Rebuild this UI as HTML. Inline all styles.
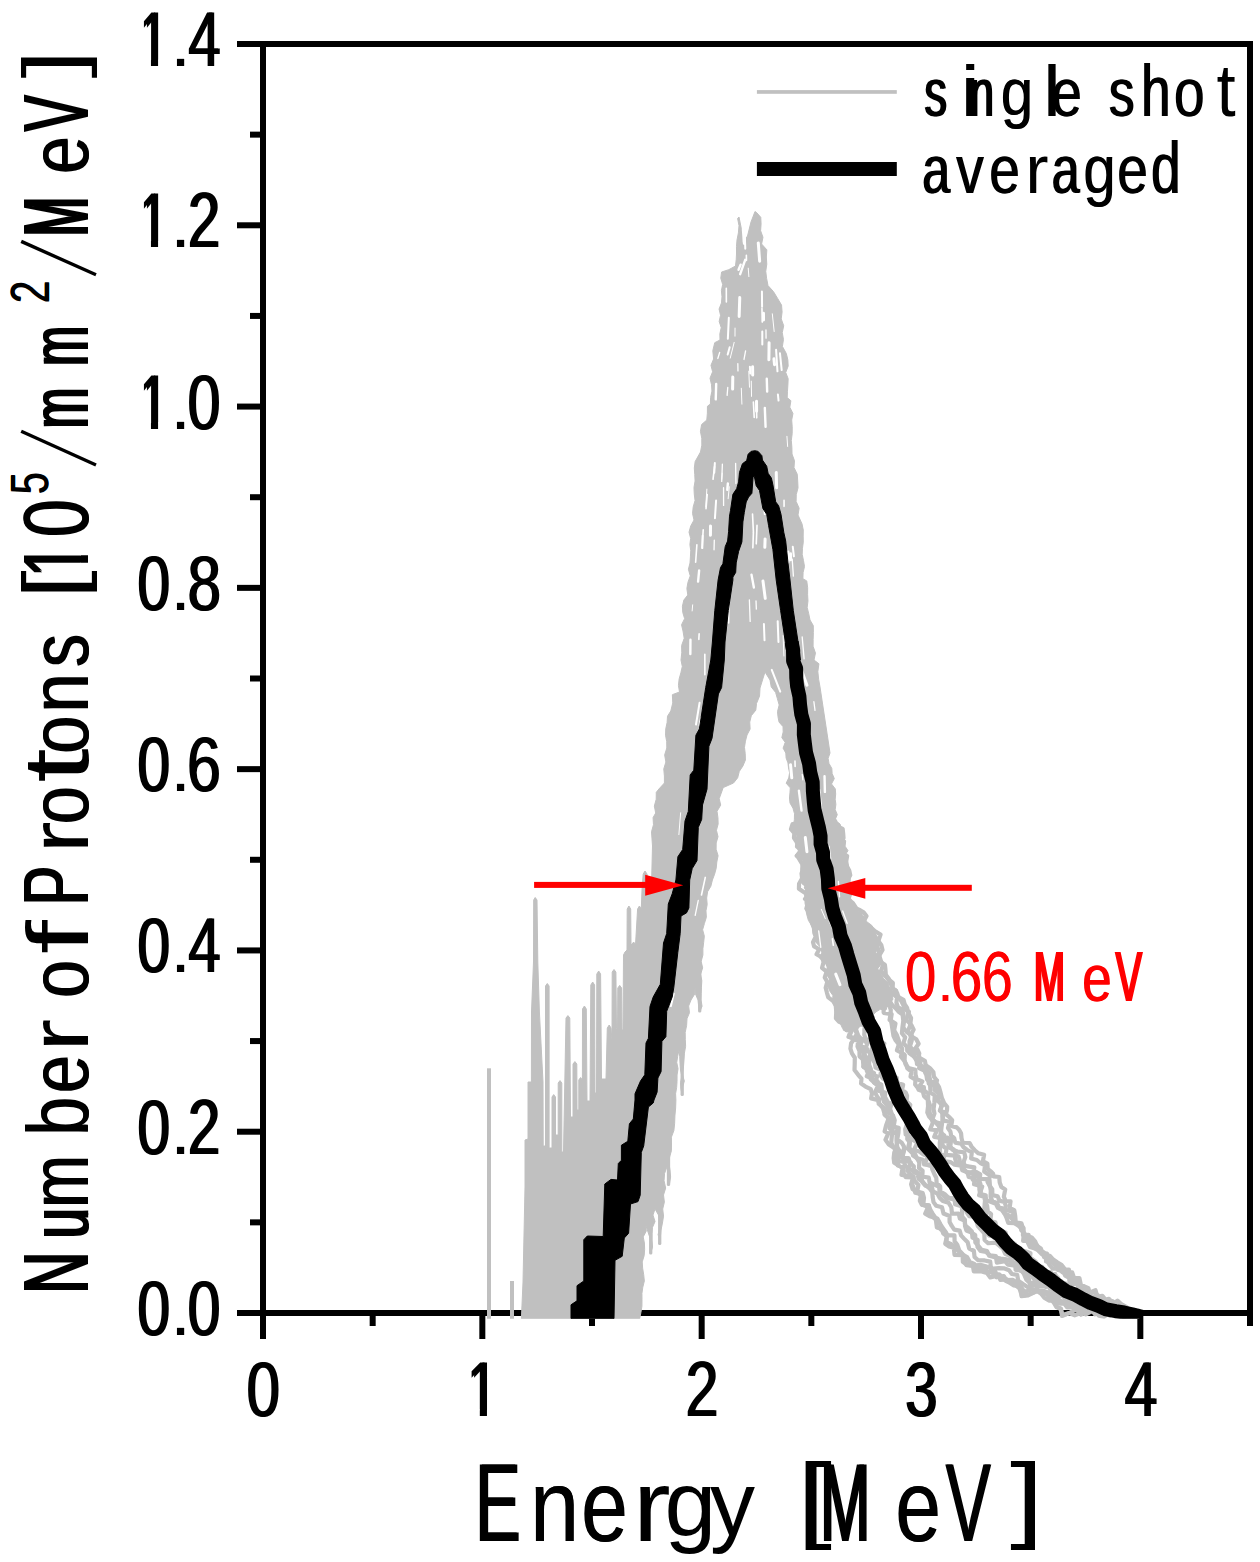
<!DOCTYPE html>
<html><head><meta charset="utf-8"><title>Proton energy spectrum</title>
<style>html,body{margin:0;padding:0;background:#fff}svg{display:block}text{font-family:"Liberation Sans",sans-serif;font-size:100px}</style>
</head><body>
<svg width="1260" height="1562" viewBox="0 0 1260 1562">
<defs><clipPath id="c1"><rect x="0" y="-80" width="60" height="71.9"/><rect x="25" y="-80" width="9.1" height="81"/></clipPath><clipPath id="cd"><rect x="0" y="0" width="1260" height="1318.7"/></clipPath></defs>
<rect width="1260" height="1562" fill="#fff"/>
<g fill="#000"><rect x="260" y="41" width="993" height="6"/><rect x="260" y="1310" width="993" height="6"/><rect x="260" y="41" width="6" height="1298"/><rect x="1247" y="41" width="6" height="1285"/><rect x="237" y="1310" width="24" height="6"/><rect x="250" y="1219.36" width="11" height="6"/><rect x="237" y="1128.71" width="24" height="6"/><rect x="250" y="1038.07" width="11" height="6"/><rect x="237" y="947.43" width="24" height="6"/><rect x="250" y="856.79" width="11" height="6"/><rect x="237" y="766.14" width="24" height="6"/><rect x="250" y="675.5" width="11" height="6"/><rect x="237" y="584.86" width="24" height="6"/><rect x="250" y="494.21" width="11" height="6"/><rect x="237" y="403.57" width="24" height="6"/><rect x="250" y="312.93" width="11" height="6"/><rect x="237" y="222.29" width="24" height="6"/><rect x="250" y="131.64" width="11" height="6"/><rect x="237" y="41" width="24" height="6"/><rect x="260" y="1315" width="6" height="24"/><rect x="369.67" y="1315" width="6" height="11"/><rect x="479.33" y="1315" width="6" height="24"/><rect x="589" y="1315" width="6" height="11"/><rect x="698.67" y="1315" width="6" height="24"/><rect x="808.33" y="1315" width="6" height="11"/><rect x="918" y="1315" width="6" height="24"/><rect x="1027.67" y="1315" width="6" height="11"/><rect x="1137.33" y="1315" width="6" height="24"/><rect x="1247" y="1315" width="6" height="11"/></g>
<g clip-path="url(#cd)">
<polygon points="521.4,1318.7 523,1282 525,1187 525,1140 528,1139 528,1082 531.4,1082 531.5,1012 533.5,962 533.7,900 535.2,897.5 537,900 537.8,962 539.4,1012 543,1082 543.2,1146 545.5,1146 545.5,986 547.3,983.5 549.1,986 549.1,1148 552,1148 552,1097 553.7,1094.6 555.5,1097 555.5,1135 558.2,1135 558.2,1083 560,1080.6 561.8,1083 561.8,1152 563.5,1152 566,1018 567.9,1015.6 569.8,1018 570.5,1117 573,1117 573,1064 574.9,1061.6 576.8,1064 577,1110 578.8,1110 578.8,1080 580.6,1077.5 582.4,1080 582.5,1009 584.4,1006 586.3,1009 587,1101 590,1101 590.8,985 592.7,982 594.6,985 595,1093 596.5,1093 596.8,974 598.7,971 600.6,974 601.5,1079 606,1079 607.3,1028 609.2,1025 611,1028 612,1040 612.2,972 614,969.5 615.9,972 616.5,1028 617.5,1030 617.8,988 619.7,985.4 621.6,988 622,1030 623,1030 623.5,955 625,952 627,950 627.2,909 628.9,906 630.7,909 631,945 633.7,942 635.5,945 637.6,909 639.4,906 641.3,909 642,890 643.2,874 645,871 647,874 648,880 651.7,878 652.5,846 652.01,838.89 651.53,831.78 653.48,824.73 653.08,817.62 655.7,813 654.35,806.08 656.21,799.24 656.28,792.36 658.9,789 664.4,783 664.4,775.97 663.77,768.89 665.87,762 664.66,754.89 666.8,748 666.71,741.63 665.54,735.24 665.76,728.87 667.1,722.54 667.52,716.18 670.8,711 672.75,702.94 672.37,694.66 679.5,692 678.45,685.54 679.1,679.15 680.86,672.82 682.31,666.48 681,660 681.78,652.77 681.63,645.47 684.21,638.37 683,631 681.54,624.76 684.64,618.65 682.76,612.4 682.41,606.2 683.86,600.04 687.8,595 686.87,588.51 687.99,582.15 690.26,575.88 688.41,569.32 690,563 690.41,556.84 690.74,550.68 689.9,544.5 690.65,538.35 689.03,532.15 690.72,526.02 694,520 692.54,513.47 693.2,506.98 695.04,500.52 694.26,494 693.98,487.5 695.09,481.02 694.74,474.51 694.32,468 695.17,461.52 700.5,452 701.84,445.16 701.78,438.27 700.43,431.32 701.63,424.48 706.8,420 707.39,413.13 707.45,406.24 710.4,404 710.59,397.55 711.94,391.12 711.51,384.66 710.02,378.19 712.61,371.78 710.98,365.3 713.6,359 712.8,350.73 714.75,342.66 720,340 719.85,333.81 721.22,327.66 719.18,321.43 720.54,315.27 719.07,309.05 721.48,302.92 721.97,296.75 721.43,290.55 722.66,284.4 720.78,278.17 721.6,272 728.83,269.65 735.5,266 736.21,259.52 736.54,253.02 736.47,246.49 737,240 738.42,232.83 739,225.64 737.6,218.4 739,217 742,232 747,238 751,222 755,211.5 757,213 760.77,217.34 761.07,224 760.6,230.69 762.97,237.29 761.6,244 766.85,249.82 766.35,257 766.78,264.15 765.76,271.35 766.61,278.48 768,285.6 773.42,291.53 777.6,298.4 781.54,305.12 782.09,311.99 781.22,318.89 783.69,325.72 782.25,332.64 783.45,339.49 782.4,346.4 786.34,353.57 787.84,359.83 788.17,366.12 785.74,372.46 788.16,378.7 787.86,385 787.47,391.3 787.2,397.6 790.89,400.74 789.82,407.21 792.94,413.52 791.7,420 792.21,426.79 792.18,433.61 791.31,440.47 791.87,447.26 792.03,454.06 794.47,460.76 794,467.6 797.28,474.24 797.7,481.02 798.03,487.82 796.26,494.64 796.11,501.44 799.14,508.18 798,515 802.02,523.92 803.28,529.99 803.18,536.08 803.27,542.16 802.46,548.26 802.19,554.36 803.46,560.43 804.49,566.5 803.09,572.61 802.9,578.7 806.75,580.93 807.65,587.73 807.6,594.6 807.96,600.97 807.18,607.45 808.72,613.71 810,620 813.28,625.6 813.37,632.48 813.14,639.37 813.08,646.25 815.46,653.09 814,660 818.92,663.78 817.84,671.59 818.63,679.31 820,687 830,753 828.14,758.32 828.99,763.44 831.8,768.41 832.14,773.57 834.3,778.59 831.5,783.98 835.31,788.88 835.67,794.04 835.2,799.25 835.87,804.39 835.19,809.62 837.29,814.65 835,820 840.2,824.27 841.84,830.14 842.4,836.5 845.68,840.97 845.07,846.18 848,850.72 843.93,856.59 846.39,861.21 848,866 850.52,871.17 850.32,876.55 850.16,881.93 850.48,887.27 852.34,892.49 850.5,898 852.11,903.95 854.73,909.2 860.64,912.13 863.8,917 866.73,921.7 871.63,925.22 874.4,930.02 875.2,936 876.96,941.29 878.25,946.64 875.74,952.58 880.52,957.41 882.17,962.71 877.5,968.98 881,974 883.7,978.84 888.52,982.41 889.33,988.38 892.4,993 892.92,999.67 887.98,1004.27 886,1010 880.2,1009.36 875.81,1012 872,1016 856,1030 850.8,1030 846,1032 842.16,1027.6 839.89,1022.33 836.23,1017.83 835,1012 835.2,1006.27 832.79,1001.11 832.86,995.4 829.39,990.47 827.66,985.16 829.47,979.08 826.7,974 827.47,967.84 825.17,962.61 823.29,957.25 821.71,951.81 819.68,946.5 815.48,941.84 815.2,936 813.8,930.55 811.5,925.34 808.38,920.36 806.89,914.93 806.67,909.16 805.08,903.76 804.8,898 805.24,892.3 806.04,886.56 802.85,881.23 804.82,875.37 802,870 803.77,864.08 802.84,858.52 799.05,853.34 797.56,847.86 796.84,842.27 797.5,836.5 794.71,831.26 793.5,825.67 794.38,819.61 794.53,813.71 792.98,808.2 790,803 789.47,798.01 789.95,792.93 790.29,787.87 786.17,783.18 788.73,777.93 789.6,772.82 788.52,767.88 787.94,762.89 786.11,758.01 785.8,753 783.12,748.15 785.2,742.35 781.83,737.65 783.18,731.99 783.02,726.64 779.04,722.06 778.03,716.88 777.5,711.6 779.18,704.97 777.4,698.68 775.6,692.4 771.24,686.91 770,680 765,672 760,688 759.56,696.05 756.5,703.5 755.8,710.16 751.3,715.68 749.74,722.08 750.12,729.07 747,735 745.43,741.17 744.47,747.39 745.23,753.71 745.4,760 742.9,766 739.29,771.42 737.65,777.86 733.5,783 723.2,787.6 719.2,798.7 720.71,805.1 717.03,811.3 717.94,817.67 718.14,824.02 716.44,830.29 718,836.69 716.18,842.96 716.11,849.3 718.08,855.71 716.8,862 716.2,868.21 714.59,874.18 712.4,880 710.86,886.2 707.6,891.7 706.65,898.03 707.18,904.51 705.97,910.81 706.36,917.27 704.4,923.5 702.63,929.73 704.33,936.13 703.65,942.41 702.9,948.69 702.9,955 701.17,961.37 702.64,967.87 700.58,974.22 701.81,980.71 701.43,987.14 701.19,993.57 701,1000 702.07,1006.19 699.7,1012 698.64,1006.03 698,1000 695.39,993.76 695,987 694.71,994.03 691,1000 688.61,1006.01 689.49,1012.71 687,1018.7 686.6,1025.59 685.19,1032.41 685.3,1039.34 685.62,1046.28 684.43,1053.11 684,1060 683.44,1066.99 682.26,1073.95 684.34,1081.07 682.34,1087.99 682.2,1095 680.87,1088.81 680.55,1082.55 681.9,1076.18 680.5,1070 680.03,1063.33 679.72,1056.65 679,1050 677.68,1056.19 676.74,1062.41 678.04,1068.76 677.05,1074.97 677.04,1081.25 676.63,1087.5 675.59,1093.71 675.9,1100 675.64,1107.94 674.91,1115.86 674.6,1123.8 673.88,1130.56 671.42,1137.11 671.49,1143.97 671.4,1150.8 669.58,1157.1 668.88,1163.48 670,1170 670.61,1177.03 669.5,1184 668.96,1176.98 668,1170 667,1166.7 664.54,1173.58 664.04,1180.7 665.67,1188.09 663.5,1195 664.36,1202.1 662.71,1209.01 663.53,1216.11 662.43,1223.07 661,1230 660,1241 658.09,1234.59 659.86,1227.96 659.9,1221.44 658.5,1215 655,1209 652.98,1215.06 655.04,1221.52 652.43,1227.53 652.03,1233.74 652,1240 652.53,1247.14 650.5,1254 651.37,1247.56 651.18,1241.2 649,1235 645.7,1225 646.27,1231.07 643.21,1236.88 644.4,1243 644.63,1249.33 644.17,1255.64 642.22,1261.92 642.64,1268.25 643.7,1274.6 644.34,1281.01 642.8,1287.22 641.93,1293.49 641.99,1299.85 641.93,1306.2 640.92,1312.46 639.7,1318.7" fill="#c0c0c0" stroke="#c0c0c0" stroke-width="1" stroke-linejoin="round"/>
<polyline points="793.86,823.99 792.97,828.77 799.03,832.27 798.12,837.06 797.55,841.78 796.98,846.5 801.78,850.24 796.66,855.8 803.78,859.1 803.16,863.66 802.25,868.55 802.68,873.38 804.99,877.89 803.67,883.02 809.31,886.97 811.2,892.06 807.8,898.31 808.86,903.04 807.97,908.22 813.85,911.86 812.22,917.2 816.53,922.03 815.86,927.72 815.23,932.44 819.02,935.75 820.42,939.82 824.01,943.19 821.89,948.39 824.17,951.89 821.31,957.66 826.32,961.37 829.46,965.62 827.86,971.27 829.63,975.93 832.91,980.25 831.61,985.95 833.58,990.56 837.16,994.68 834.98,1000.55 835.68,1005.55 841.52,1009.99 844.24,1014.81 847.66,1018.17 844.94,1024.06 844.68,1028.94 850.52,1031.29 848.53,1036.88 855.03,1037.85 851.11,1043.27 850.4,1048.68 851.94,1053.41 854.78,1057.76 854.74,1062.97 854.52,1069.91 858.35,1075.06 861.45,1078.57 861.09,1083.58 865.48,1086.53 870.73,1089.11 872,1093.41 871.15,1098.4 877.46,1099.99 879.38,1103.64 882.97,1108.35 884.82,1114.63 888.61,1118.16 889.4,1123.54 893.7,1126.13 891.21,1131.75 896.7,1133.78 896.7,1139.76 897.1,1145.64 894.26,1152.53 893.65,1157.97 894.21,1162.65 898.22,1165.12 902.53,1168.13 901.48,1174.92 907.9,1175.75 913.02,1177.5 911.13,1184.36 912.57,1189.14 917.26,1191.38 920.23,1194.84 923.26,1198.26 922.3,1204.54 927.17,1206.65 928.85,1211.04 931.22,1214.94 935.86,1219.66 936.86,1227.47 941.74,1229.01 943.28,1233.58 946.99,1236.17 945.22,1243.73 948.79,1246.45 953.83,1247.85 954.52,1254.9 962.73,1255.14 962.85,1261.87 966.78,1264.76 972.81,1265.54 973.83,1271.37 980.87,1271.13 986.93,1273.06 990.26,1277.5 998.3,1275.4 1000.35,1279.96 1006.96,1279.45 1010.15,1282.74 1014.75,1284.46 1019.43,1288.38 1021.89,1295.84 1028.83,1294.38 1036.86,1291.37 1042.77,1291.38 1046.68,1294.25 1050.43,1298.24 1053.81,1302.66 1056.51,1307.15 1060.66,1309.23 1062.52,1315.12 1069.11,1313.13 1074.71,1315.31 1081.92,1312.55 1085.74,1314.41 1091.5,1311.46 1095.69,1312.39 1098.95,1315.67 1103.96,1316.8 1110.49,1312.1 1115.23,1313.26 1119.8,1315.43 1124.41,1317.35 1129.87,1314.54 1134.04,1314.28 1138.63,1311.62" fill="none" stroke="#c0c0c0" stroke-width="4.2" stroke-linejoin="round" stroke-linecap="round"/>
<polyline points="792.46,824.24 790.98,829.13 794.36,833.13 793.96,837.82 796.57,841.96 798.66,846.19 800.91,850.4 797.07,855.72 799.75,859.85 802.15,863.84 803.07,868.41 801.54,873.57 802.14,878.37 799.07,883.79 798.9,888.72 805.54,893.17 807.36,898.41 807.78,903.28 806.38,908.57 810.1,912.71 814.09,916.78 812.09,923.23 814,928.32 814.29,932.75 815.77,936.79 812.98,942.21 814.12,946.36 819.17,949.27 816.56,954.22 822.06,957.44 823.6,962.17 822.03,967.8 826.63,971.63 824.75,977.36 827.32,981.92 825.65,987.77 826.9,992.59 828.26,997.39 833.22,1001.09 835.77,1005.52 836.26,1011.85 835.92,1018.26 839.1,1021.71 844.86,1024.1 848.66,1027.29 851.72,1030.79 849.01,1036.69 852.8,1038.64 858.09,1041.17 857.51,1046.54 859.5,1051.14 859.53,1056.33 863.89,1060.22 866.03,1065.74 866.95,1071.34 871.49,1074.22 877.29,1076.56 874.25,1082.73 880.92,1084.69 881.43,1089.32 882.47,1093.61 882.72,1097.82 883.98,1101.75 887.64,1105.91 890.82,1110.93 892.25,1115.91 892.72,1121.49 892.92,1126.59 898.73,1127.73 898.43,1132.86 897.22,1139.46 901.66,1142.7 903.9,1146.31 903.96,1151.32 902.06,1157.59 904.96,1160.78 910.84,1162.54 907.45,1170.74 910.27,1174.09 913.75,1176.98 912,1183.75 913.82,1188.24 915.33,1192.75 921.17,1194.17 919.85,1200.71 921.86,1204.86 928.85,1205.45 925.21,1213.64 929.55,1216.13 937.36,1218.45 940.45,1224.23 942.79,1228.06 945.33,1231.72 947.82,1235.42 954.46,1235.37 954.59,1241.21 957.27,1244.73 959.26,1250.36 963.13,1254.73 967.31,1257.37 969.66,1261.85 974.39,1263.94 976.47,1268.71 983.67,1268.3 987.99,1271.93 995.47,1271.71 996.6,1277.29 1003.81,1276.11 1006.31,1280.17 1012.68,1279.93 1016.7,1282.3 1020.8,1286.66 1021.59,1296.26 1028.07,1295.46 1037.17,1290.93 1041.14,1293.71 1044.28,1297.67 1048.89,1300.6 1055.16,1300.41 1056.85,1306.58 1061.03,1308.61 1061.99,1316.01 1069.15,1313.07 1078.19,1308.38 1081.05,1314.7 1086.73,1311.96 1092.03,1310.13 1094.94,1314.26 1100.11,1312.78 1104.45,1315.04 1110.55,1311.76 1115.47,1311.95 1120.13,1313.58 1124.66,1315.94 1130.47,1311.13 1133.54,1317.14 1138.1,1314.61" fill="none" stroke="#c0c0c0" stroke-width="4.2" stroke-linejoin="round" stroke-linecap="round"/>
<polyline points="803.01,822.3 799.65,827.54 798.57,832.36 799.36,836.83 806.6,840.11 806.01,844.84 803.33,849.95 805.02,854.26 813.35,857.34 812.06,862.1 815.59,866.31 810.53,872.06 812.3,876.67 810.04,881.95 812.47,886.44 810.4,892.22 812.79,897.18 816.57,901.3 817.02,906.18 817.94,910.94 819.59,915.54 822.57,920.4 821.82,925.81 819.56,931.06 824.32,934.05 823.76,938.75 827.35,942.12 827.34,946.65 828.03,950.71 834.31,953.84 835.1,958.79 836.43,963.58 832.11,970.02 837.72,973.55 835.96,979.33 837.48,984.17 840.14,988.57 846.37,991.88 845.79,997.26 846.58,1002.23 847.27,1007.95 850.46,1012.24 849.83,1017.27 845.63,1023.78 850.9,1026.37 854.65,1029.58 857.36,1033.23 855.71,1037.61 863.34,1039.59 867.36,1043.58 864.79,1049.55 870.55,1053.02 869.22,1058.62 869.12,1064.63 870.95,1069.6 869.94,1074.89 871.73,1078.97 877.53,1081.31 880.01,1085.09 878.18,1090.73 885.07,1092.51 884.98,1096.89 886.94,1100.53 888.37,1105.53 884.62,1114.75 888.66,1118.13 885.99,1125.65 884.61,1131.39 888.29,1133.31 885.43,1139.81 888.8,1144.4 893.88,1147.72 897.18,1150.64 899.57,1154.15 898.39,1159.96 897.78,1165.41 903.65,1167.38 903.7,1173.36 905.79,1177.23 913.16,1177.39 915.09,1181.56 918.43,1184.95 917.23,1191.39 922.69,1193.08 924.01,1197.73 923.39,1203.76 928.85,1205.45 930.42,1209.92 932.79,1213.81 936.46,1219.18 940.16,1224.49 941,1229.68 945.37,1231.68 946.45,1236.66 946.81,1242.29 951.39,1244.1 954.88,1246.9 958.4,1251.19 963.01,1254.85 965.19,1259.51 966.39,1265.16 972.55,1265.8 980.38,1264.77 985.69,1266.27 991.25,1268.49 993.23,1274.2 999.2,1274.4 1002.56,1277.51 1005.71,1280.83 1009.99,1282.91 1013.85,1285.46 1020.86,1286.58 1024.53,1292.07 1032.52,1289.12 1037.9,1289.89 1041.33,1293.45 1047.6,1292.94 1052.3,1295.37 1054.85,1300.92 1058.66,1303.58 1064.1,1303.5 1067.2,1307.33 1072.69,1307.18 1077.08,1310.6 1083.9,1307.62 1088.03,1308.71 1092.44,1309.13 1096.03,1311.55 1100.41,1312.03 1105.11,1312.67 1109.85,1315.69 1115.72,1310.54 1120.03,1314.12 1124.4,1317.38 1129.41,1317.13 1133.74,1315.98 1137.69,1316.98" fill="none" stroke="#c0c0c0" stroke-width="4.2" stroke-linejoin="round" stroke-linecap="round"/>
<polyline points="798.87,823.06 803.28,826.87 798.66,832.34 799.15,836.87 804.3,840.54 806.09,844.82 808.82,848.94 810.44,853.26 810.45,857.88 806.29,863.11 804.21,868.22 807.98,872.49 804.79,877.93 808.83,882.15 806,887.53 811.56,891.99 805.02,898.93 812.67,902.18 806.9,908.46 808.23,913.13 815.79,916.4 814.12,922.68 819.11,926.68 815.27,932.43 819.63,935.55 817.48,940.76 824.04,943.18 826.96,946.77 824.64,951.75 830.52,954.95 826.37,961.35 831.81,964.93 831.16,970.3 831.93,975.25 832.7,980.31 831.51,985.98 837.65,989.32 835.58,995.16 841.14,998.68 844.23,1002.95 847.02,1008.04 851.09,1011.98 848.59,1017.78 855.3,1019.78 858.63,1023.17 856.04,1029.01 857.11,1033.33 855.08,1037.83 859.38,1040.78 858.84,1046.14 861.77,1050.46 864.71,1054.77 867.34,1059.18 863.39,1066.7 869.07,1070.42 866.8,1076.25 872.64,1078.58 874.41,1082.66 877.86,1086.02 875.04,1092.1 876.76,1096.02 879.1,1099.31 878.71,1103.92 884.03,1107.8 888.36,1112.44 892.78,1115.59 888.56,1124.06 889.65,1128.47 892.89,1130.85 891.82,1136.39 891.22,1142.98 893.91,1147.7 898.2,1149.99 896.78,1155.95 896.78,1161 903.48,1161.73 905.65,1166.03 909.4,1169.38 915.2,1170.65 919.19,1173.18 921.44,1177.07 922.32,1182.17 925.37,1185.58 931.81,1186.57 932.92,1191.36 937.49,1193.68 939.62,1197.75 942.84,1201.04 948.42,1202.64 951.3,1207.24 952.01,1213.77 958.7,1213.67 959.85,1218.59 964.36,1220.46 965.37,1225.5 968.77,1228.38 971.87,1231.53 972.5,1237.68 977.71,1240.03 977.51,1247.08 980.51,1250.91 986.2,1252.04 989.85,1255.21 995.83,1256.04 996.84,1262.58 1004.96,1261.16 1007.93,1264.69 1013.47,1265.36 1018.79,1266.29 1020.81,1270.88 1025.18,1272.86 1028.43,1277.04 1030.08,1284.16 1038.75,1280.24 1040.46,1286.25 1046.69,1285.8 1051.4,1287.53 1053.88,1292.95 1057.68,1296.22 1063.38,1295.72 1066.3,1299.84 1068.74,1304.76 1073.95,1305.08 1079.08,1306.62 1085.02,1304.86 1089.05,1306.18 1092.3,1309.47 1096.44,1310.53 1102.14,1307.75 1106.79,1306.69 1111.01,1309.2 1115.35,1312.61 1120.64,1310.74 1124.95,1314.33 1130.34,1311.91 1134.35,1312.48 1138.19,1314.1" fill="none" stroke="#c0c0c0" stroke-width="4.2" stroke-linejoin="round" stroke-linecap="round"/>
<polyline points="803.88,822.14 803.67,826.8 803.94,831.37 803.4,836.08 809.88,839.51 809.08,844.27 811.2,848.5 813.75,852.65 811.56,857.67 808.16,862.78 813.26,866.7 809.31,872.27 813.28,876.5 815.38,881.05 816.43,885.77 815.07,891.3 817.69,896.08 815.83,901.47 817.75,906.01 818.85,910.74 823.37,914.69 822.38,920.46 825.55,924.61 827.5,928.51 830.28,932.14 834.31,935.37 830.95,940.97 835.05,944.18 829.55,950.25 829.96,955.12 834.34,959.01 830.38,965.35 832.74,969.84 833.69,974.74 837.79,978.79 838.6,983.83 841.68,988.1 845.42,992.17 843.33,998.01 849.03,1001.49 846.37,1008.27 852.94,1011.21 847.63,1018.18 849.61,1022.13 854.73,1024.78 855.37,1029.29 856.86,1033.44 858.9,1036.48 862.15,1039.95 860.3,1045.71 867.13,1048.85 863.2,1055.23 862.99,1060.49 863.42,1066.69 869.17,1070.37 874.01,1073.13 870.77,1079.39 874.46,1082.64 881.37,1084.5 881.6,1089.25 881.91,1093.84 884.49,1097.09 885.66,1101.05 891.38,1103.97 889.35,1111.83 892.98,1115.46 894.73,1120.25 893.67,1126.15 897.14,1128.58 896.99,1133.63 896.77,1139.72 896.76,1145.86 898.62,1149.71 902.1,1152.52 903.16,1156.89 908.74,1158.34 910.11,1163.03 913.85,1166.27 913.39,1171.91 917.66,1174.25 918.62,1179.07 922.81,1181.82 925.65,1185.38 929.49,1188.22 932.19,1191.88 932.67,1197.13 933.54,1202.1 936.19,1205.8 941.98,1207.24 943.51,1213.51 949.53,1216.01 949.6,1221.9 951.76,1225.9 954.25,1229.6 959.67,1230.66 961.06,1235.35 964.02,1238.63 967.66,1242.32 969.19,1248.62 973.86,1250.77 974.56,1256.92 978.09,1260.22 984.64,1260.46 990.24,1261.67 990.95,1268.8 998.65,1268.17 1004.53,1268.47 1009.08,1270.25 1011.83,1274.03 1017.2,1274.9 1018.21,1280.61 1022.95,1283.94 1027.92,1287.24 1036.27,1283.78 1037.41,1290.59 1043.27,1290.67 1048,1292.38 1052.96,1294.37 1056.24,1298.62 1060.53,1300.46 1064.41,1302.99 1068.65,1304.91 1074.31,1304.48 1078,1308.77 1082.93,1310.05 1087.53,1309.97 1093.28,1307.02 1098.01,1306.64 1101.94,1308.23 1104.99,1313.12 1110.9,1309.8 1115.95,1309.28 1120.08,1313.89 1125.71,1310.09 1130.29,1312.15 1134.28,1312.88 1138.41,1312.86" fill="none" stroke="#c0c0c0" stroke-width="4.2" stroke-linejoin="round" stroke-linecap="round"/>
<polyline points="805.32,821.88 806.91,826.2 805.34,831.11 806.58,835.5 807.67,839.92 812.86,843.58 809.1,848.89 815.11,852.4 814.6,857.11 810.4,862.39 813.32,866.69 812.59,871.72 814.84,876.24 817.9,880.63 813.19,886.32 813.72,891.56 812.91,897.15 819.07,900.74 815.65,906.48 818.79,910.75 823.71,914.61 823.68,920.11 829.03,923.5 828.45,928.2 831.67,931.7 835.07,935.13 833.64,940.11 834.68,944.29 838.59,947.48 840.95,951.89 839.2,957.58 845.26,960.98 840.8,967.47 843.33,971.9 844.51,976.78 844.3,982.09 846.41,986.66 842.4,993.09 845.54,997.34 847.53,1001.94 851.19,1006.56 852.5,1011.4 852.44,1016.19 855.59,1019.66 858.29,1023.31 864.42,1025.54 864.58,1030.24 864.25,1034.59 865.52,1038.94 874.37,1041.47 872.15,1047.34 875.77,1051.45 875.9,1056.61 876.63,1061.91 883.8,1064.03 888.11,1067.01 885.24,1073.11 889.83,1075.97 894.12,1078.97 894.84,1083.51 895.02,1088.29 896.01,1092.34 900.96,1094.75 901.9,1098.49 901.28,1104.46 904.87,1108.12 907.59,1112.31 906.28,1118.86 907.26,1123.17 905.22,1129.23 905.68,1134.49 910.36,1137.09 909.33,1142.81 907.81,1148.84 910.99,1151.84 915.09,1154.24 917.01,1158.39 919.31,1162.45 919.01,1167.98 922.62,1170.78 922.31,1176.46 928.71,1177.6 929.64,1182.53 934.53,1184.62 939.15,1186.91 939.59,1192.18 943.08,1195.28 946.29,1198.58 954.83,1198.06 955.05,1204.23 960.56,1206.04 965.22,1207.77 966.73,1212.36 969.19,1216.09 974.96,1216.82 976.55,1221.34 977.86,1226.12 980.93,1229.61 984.33,1233.35 984.57,1239.96 988.12,1243.24 995.62,1242.54 999.35,1245.63 1003,1248.81 1005.15,1253.79 1009.72,1255.87 1011.35,1260.89 1015.1,1263.56 1020.5,1264.39 1022.88,1268.58 1025.97,1271.98 1030.76,1274.1 1033.81,1278.85 1037.41,1282.16 1044.14,1281 1045.82,1287.04 1053.28,1284.84 1056.61,1288.75 1060.86,1290.93 1063.13,1296.13 1065.94,1300.44 1071.28,1300.53 1076.91,1300.15 1081.31,1302.17 1083.7,1308.13 1088.75,1306.94 1091.97,1310.29 1098.36,1305.77 1102.87,1305.91 1105.99,1309.53 1111.35,1307.31 1115.47,1311.97 1120.77,1309.99 1124.77,1315.33 1130.47,1311.17 1133.88,1315.17 1138.5,1312.34" fill="none" stroke="#c0c0c0" stroke-width="4.2" stroke-linejoin="round" stroke-linecap="round"/>
<polyline points="812.53,820.55 808.96,825.82 815.42,829.25 814.06,834.12 810.65,839.37 815.54,843.09 814.95,847.81 816,852.24 816.6,856.74 818.35,860.99 816.14,866.22 817.06,870.97 819.08,875.53 816.75,880.82 822.14,884.82 823.63,889.62 821.72,895.17 820.2,900.48 825.27,904.32 825.86,909.16 828.8,913.47 825.59,919.59 829.66,923.3 831.94,927.09 831.27,931.82 831.96,936.12 840.16,938.02 840.51,942.43 836.01,948.27 838.02,952.75 840.3,957.26 840.77,962.3 842.2,967.06 846.78,970.89 847.46,975.9 843.02,982.48 848.09,986.15 850.18,990.72 848.73,996.37 849.99,1001.19 850.06,1006.96 853.05,1011.17 855.64,1014.86 861.59,1017.17 864.48,1020.75 866.67,1024.61 864.66,1030.21 873.22,1031.43 872.5,1036.84 872.93,1041.91 872.14,1047.34 870.58,1053.01 871.88,1057.82 874.73,1062.6 875.56,1067.6 881.32,1069.96 880.38,1075.22 883.31,1078.8 887.91,1081.66 890.45,1085.42 894.84,1088.37 896.77,1092.03 896.4,1096.63 902.88,1097.98 904.34,1102.57 906.86,1106.89 909.41,1111.18 908.93,1117.33 910.05,1121.68 907.53,1128 907.55,1133.39 907.25,1139.1 909.98,1142.39 909.22,1147.93 912.31,1150.99 913.02,1155.58 917.07,1158.36 923,1159.87 924.11,1164.41 931.35,1164.68 932.31,1169.38 934.19,1173.68 936.27,1177.79 936.69,1183.08 940.14,1186.21 940.36,1191.64 944.69,1194.13 948.07,1197.3 953.02,1199.36 959.39,1200.74 961.84,1204.87 962.05,1210.64 962.15,1216.51 964.93,1219.94 965.01,1225.83 966.4,1230.52 970.93,1232.39 975.21,1235.09 975.34,1242.42 978.51,1246.07 981.64,1249.78 987.08,1251.15 989.25,1255.81 994.7,1257.18 1000.62,1258.58 1006.63,1259.3 1010.81,1261.49 1015.2,1263.45 1015.61,1269.83 1021.33,1270.3 1024.02,1274.15 1026.36,1279.64 1030.5,1283.57 1036.1,1284.02 1040.85,1285.69 1048.14,1283.74 1050,1289.52 1056.5,1288.92 1058.36,1295.08 1065.19,1292.71 1066.75,1299.09 1070.07,1302.56 1076.23,1301.29 1082.29,1300.22 1085.18,1304.46 1089.95,1303.95 1095.19,1302.3 1099.27,1303.51 1101.74,1308.72 1106.29,1308.47 1110.51,1311.98 1116.34,1307.07 1120.84,1309.64 1126.02,1308.35 1129.85,1314.66 1134.58,1311.2 1137.71,1316.87" fill="none" stroke="#c0c0c0" stroke-width="4.2" stroke-linejoin="round" stroke-linecap="round"/>
<polyline points="811.89,820.67 815.61,824.6 814.44,829.43 819.12,833.19 815.62,838.45 815.73,843.05 816.8,847.47 822.87,850.97 821.54,855.84 822.38,860.28 825.12,864.71 823.33,869.91 825.17,874.51 825.59,879.34 819.62,885.24 824.1,889.52 824.74,894.49 820.77,900.36 821.6,905.14 821.94,910.04 826.45,914 829.47,918.54 833.03,922.22 835.85,925.83 836.17,930.25 838.17,934.13 837.13,938.99 845.45,940.84 844.95,945.53 841.61,951.7 845.02,955.87 848.01,960.17 848.36,965.25 850.71,969.74 850.6,974.96 850.72,980.14 854.12,984.31 849.81,990.83 853.08,995.05 855.49,999.52 854.11,1005.52 857.88,1009.17 860.23,1012.96 861.73,1017.11 865.9,1020.15 867.72,1024.17 871.98,1027.18 870.45,1032.41 874.69,1036.18 876.76,1040.75 873.89,1046.82 876.19,1051.32 873.6,1057.3 874.81,1062.57 883.91,1063.98 888.72,1066.75 885.35,1073.07 891.08,1075.44 891.3,1080.2 897.66,1082.29 896.49,1087.67 896.35,1092.2 900.17,1095.07 900.66,1099.14 901.95,1104.05 905.33,1107.84 905.96,1113.31 910.72,1116.29 912.59,1120.32 911.07,1126.1 911.07,1131.32 915.63,1133.7 913.3,1140.25 917.57,1142.55 913.91,1149.95 919.27,1151.54 923.18,1154.24 928.12,1156.29 924.75,1163.97 929.82,1165.75 936.48,1166.43 939.62,1169.8 945.15,1171.44 945.4,1176.85 951.44,1178.12 956.03,1180.43 955.45,1186.44 961.38,1187.79 962.8,1192.37 966.34,1195.16 965.37,1201.69 968.84,1204.49 973.16,1206.55 976,1209.93 975.02,1216.77 979.42,1218.75 982.34,1222.06 984.72,1225.98 985.97,1231.69 988.93,1235.57 995.14,1236.17 1000.55,1237.57 1004.35,1240.59 1006.08,1245.71 1009.98,1248.68 1014.76,1250.26 1016.23,1255.46 1022.5,1255.32 1022.98,1261.63 1027.8,1263.11 1031,1266.39 1035.37,1268.28 1037.59,1273.47 1044.43,1272.15 1046.72,1277.32 1055.08,1273.85 1056.03,1280.93 1059.49,1284.33 1064.7,1284.53 1066.93,1289.8 1071.15,1291.76 1074.23,1295.63 1077.73,1298.79 1084.38,1296.06 1086.97,1300 1090.48,1302.64 1096.15,1299.91 1098.78,1304.74 1103.27,1304.92 1107.59,1303.81 1111.62,1305.78 1116.47,1306.36 1121.15,1307.91 1125.37,1312 1130.04,1313.59 1134.05,1314.23 1138.21,1313.99" fill="none" stroke="#c0c0c0" stroke-width="4.2" stroke-linejoin="round" stroke-linecap="round"/>
<polyline points="817.21,819.69 815.15,824.68 816.42,829.07 821.24,832.8 822.62,837.16 824.4,841.45 826.77,845.64 823.84,850.79 824.04,855.38 824.07,859.99 829.82,863.92 824.32,869.75 827.53,874.11 825.24,879.39 827.15,883.98 827.72,888.81 828.24,893.7 830.06,898.26 826.3,904.08 829.67,908.3 834.17,912.26 834.94,917.07 839.42,920.17 840.5,924.34 839.78,929.09 841.95,932.92 845.73,936.23 847.69,940.12 848.86,944.33 846.5,950.26 847.98,955 850.11,959.56 853.09,963.86 851.48,969.51 851.73,974.62 855.41,978.71 855.85,983.79 855.17,989.2 858.99,993.25 860.64,997.95 863.68,1002.13 863.92,1006.67 866.38,1010.42 866.85,1014.99 872.79,1017.3 869.96,1023.24 872.99,1026.76 871.51,1032.03 876.35,1035.68 878.38,1040.27 884.32,1043.68 880.61,1049.99 882.82,1054.53 885.46,1058.71 884.81,1063.59 888.01,1067.06 892.07,1070.15 889.61,1076.07 896.9,1077.77 896.91,1082.61 903.15,1084.85 902.04,1089.86 905.85,1092.73 907.06,1095.8 906.48,1101.25 910.27,1104.78 909.34,1111.23 911.79,1115.68 915.28,1118.88 917.79,1122.51 912.24,1130.64 915.73,1133.63 918.61,1136.82 926.3,1136.91 926.86,1141.6 928.22,1145.78 931.04,1148.97 929.33,1155.44 932.03,1158.87 938.05,1159.99 941.39,1162.96 942.23,1167.94 942.65,1173.23 945.01,1177.13 947.14,1181.2 952.14,1183.22 954.4,1187.19 955.21,1192.2 960.11,1194.29 964.07,1196.98 968.82,1198.57 969.56,1203.85 971.29,1208.23 974.59,1211.21 978.18,1213.91 981.73,1216.66 984.61,1220 982.94,1227.69 989.79,1227.85 990.8,1233.68 993.69,1237.63 1000.15,1237.97 1000.93,1244.04 1005.28,1246.51 1007.64,1251.16 1011.09,1254.34 1013.88,1258.07 1019.72,1258.41 1023.05,1261.55 1027.04,1263.95 1029.08,1268.52 1034.06,1269.94 1038.07,1272.78 1043.06,1274.1 1050.48,1271.97 1053.8,1275.66 1056.44,1280.34 1061.54,1281.19 1063.58,1286.4 1067.64,1288.62 1069.55,1294.43 1073.65,1296.6 1078.22,1297.97 1084.17,1296.47 1086.32,1301.63 1091.03,1301.26 1094.83,1303.18 1100.15,1301.33 1102.81,1306.07 1107.91,1302.68 1111.59,1305.95 1116.26,1307.55 1120.47,1311.68 1125.33,1312.2 1130.76,1309.53 1134.76,1310.16 1138.42,1312.77" fill="none" stroke="#c0c0c0" stroke-width="4.2" stroke-linejoin="round" stroke-linecap="round"/>
<polyline points="822.69,818.68 828.97,822.14 825.15,827.46 829.6,831.26 832.86,835.28 833.48,839.78 834.92,844.14 831.81,849.33 832.2,853.87 833.6,858.31 831.77,863.6 838.09,867.44 832.57,873.26 833.54,878 835.57,882.56 835.91,887.2 836.47,891.84 838.01,896.47 837.12,901.65 836.52,906.75 838.7,911.24 843.67,914.72 846.64,917.85 847.63,922.06 848.38,926.34 855.53,928.57 856.13,932.9 854.17,938.05 856.06,942.13 860.28,946.22 861.86,950.93 867.01,954.59 864.56,960.49 868.37,964.55 865.63,970.46 865.9,975.52 867.51,980.24 870.05,984.68 871.61,989.41 876.27,993.2 881.22,995.9 879.26,1000.32 884.49,1002.92 883.52,1008.09 883.65,1012.81 891.66,1014.26 890.82,1019.38 891.77,1024.88 892.65,1030.78 893.43,1035.74 895.58,1040.29 898.87,1044.5 896.95,1050.28 901.89,1052.76 900.93,1056.6 903.83,1060.2 906.12,1064.06 907.33,1068.39 911.44,1071.46 910.55,1076.7 915.48,1079.63 915.15,1084.45 917.67,1087.86 918.65,1089.77 922.75,1091.2 924.07,1096.26 927.79,1099.83 928.06,1106.27 927.31,1112.45 929.03,1116.5 931.7,1119.2 932.75,1122.65 930.26,1129.31 936.97,1130.04 934.21,1136.86 940.5,1137.86 939.74,1143.12 939.94,1148.02 940.17,1153.19 943.9,1155.9 944.19,1160.98 950.44,1162.07 954.61,1164.68 961.05,1165.67 962.31,1170.36 967.42,1172.3 968.71,1176.96 974.64,1178.31 974.07,1184.31 978.56,1185.33 981.15,1187.41 980.46,1193.99 985.72,1195.18 984.86,1201.91 984.32,1208.36 985.8,1212.97 986.21,1218.56 989.99,1220.94 995.36,1222.23 996.73,1227.7 1000.59,1230.66 1005.59,1232.48 1006.65,1238.28 1009.8,1241.95 1014.71,1243.68 1014.38,1250.68 1020.99,1250.17 1025.98,1251.46 1030.5,1253.26 1029.33,1261.41 1034.38,1262.63 1035.66,1267.91 1042.19,1266.9 1044.48,1272.08 1047.31,1276.48 1054.53,1274.63 1058.12,1277.95 1059.97,1283.6 1065.46,1283.27 1068.45,1287.27 1070.71,1292.51 1076.44,1291.95 1080.95,1293.42 1083.96,1296.89 1086.49,1301.19 1090.33,1303 1094.28,1304.56 1098.22,1306.12 1101.95,1308.21 1107.69,1303.46 1110.99,1309.29 1115.63,1311.07 1120.59,1311.05 1125.51,1311.23 1130.07,1313.41 1134.72,1310.38 1138.02,1315.08" fill="none" stroke="#c0c0c0" stroke-width="4.2" stroke-linejoin="round" stroke-linecap="round"/>
<polyline points="824.49,818.35 828.98,822.14 826.61,827.19 832.64,830.7 831.55,835.52 828.71,840.66 835.25,844.08 829.23,849.8 836.67,853.05 830.78,858.81 833.5,863.31 837.18,867.59 834.51,872.94 833.44,878.02 836.33,882.43 835.93,887.2 837.17,891.69 839.35,896.17 834.18,902.31 837.65,906.5 840.67,910.79 841.62,915.27 842.54,919.17 846.36,922.46 851.06,925.48 851.5,929.86 853.17,933.85 859.46,936.35 860.2,940.86 864.72,944.91 863.02,950.59 864.93,955.2 866.05,960.05 872.77,963.26 875.68,967.46 877.02,972.14 871,979.18 877.55,982.4 878.51,987.31 880.36,991.96 886.83,993.91 883.4,998.6 884.23,1003.03 889.45,1005.64 890.78,1009.86 890.47,1014.75 889.58,1019.89 895.46,1023.58 894.11,1030.34 896.73,1034.75 898.42,1039.44 899.98,1044.17 902.17,1048.71 901.8,1052.8 904.82,1054.92 904.58,1059.87 905.57,1064.3 908.42,1067.92 915.36,1069.76 915.52,1074.54 916.73,1079.11 922.33,1081.49 918.79,1087.4 923.89,1087.04 924,1090.43 928.24,1093.68 928.11,1099.63 929.9,1105.21 929.55,1111.25 930.32,1115.82 931.58,1119.27 934.81,1121.33 937.51,1124.63 940.38,1127.84 940.66,1132.7 944.33,1135.39 943.41,1140.65 948.4,1142.1 948.46,1147.38 953.43,1149.24 955.43,1153.04 955.13,1158.72 956.66,1163.22 964.06,1163.52 963.2,1169.72 967.55,1172.2 973.4,1173.61 972.73,1179.68 978.25,1181.32 978.22,1185.6 982.21,1186.45 979.11,1195.21 983.97,1196.76 985.38,1201.45 987.11,1205.83 987.78,1211.19 991.08,1214.15 990.38,1220.56 994.09,1223.51 993.89,1230.57 999.96,1231.31 1003.09,1235 1006.31,1238.61 1009.78,1241.98 1009.74,1248.93 1015.9,1248.98 1019.46,1251.87 1022.92,1254.86 1025.72,1258.58 1031.83,1258.62 1035.52,1261.36 1037.68,1265.37 1038.67,1271.93 1043.38,1273.65 1048.05,1275.43 1052.15,1278.02 1057.78,1278.43 1060.07,1283.44 1063.27,1286.92 1069.76,1285.09 1070.6,1292.69 1075.18,1294.05 1080.29,1294.52 1084.72,1295.39 1087.42,1298.89 1090.43,1302.76 1095.22,1302.22 1099.31,1303.41 1102.7,1306.35 1106.36,1308.2 1111.5,1306.43 1115.83,1309.91 1121.26,1307.27 1125.04,1313.82 1130.6,1310.42 1134.83,1309.73 1138.49,1312.39" fill="none" stroke="#c0c0c0" stroke-width="4.2" stroke-linejoin="round" stroke-linecap="round"/>
<polyline points="831.52,817.05 832.19,821.55 838.03,825.09 837.17,829.87 837.89,834.35 838.06,838.94 836.85,843.78 839.17,847.97 841.63,852.14 843.79,856.52 845.14,861.35 841.12,866.93 844.79,871.21 841.96,876.59 846.06,880.8 844.68,885.48 844.19,890.11 841.34,895.72 843.74,900.15 843.79,905.12 845.89,909.62 847.14,913.78 852.84,915.87 856.17,919.32 852.66,924.97 856.8,928.16 858.58,932.11 864.28,934.81 868.82,938.22 870.4,943.24 869.06,948.81 865.65,954.99 871.45,958.47 872.21,963.42 868.12,969.72 869.74,974.35 872.31,978.78 874.82,983.22 880.76,986.63 884.49,990.7 885.71,994.31 887.08,997.08 889.74,1000.75 891.82,1004.65 895.35,1007.96 898.38,1011.48 902.58,1014.51 903.3,1020.81 902.38,1027.85 901.91,1033.19 905.19,1037.4 903.44,1043.13 907.13,1047.21 907.24,1050.82 913.53,1051.14 914.55,1055.55 915.98,1059.79 920.39,1062.73 919.09,1068.15 924.32,1070.73 926.37,1075.02 927.06,1079.54 930.39,1082.61 929.55,1084.09 934.51,1083.94 934.39,1089.88 938.19,1093.41 937.42,1100.86 942.64,1104.26 939.92,1110.68 944.07,1111.93 942.52,1116.35 942.36,1121.51 941.53,1127.09 940.96,1132.51 939.64,1138.41 942.25,1141.43 942.88,1145.97 946.53,1148.74 945.48,1154.79 952.19,1155.33 958.54,1156.28 959.85,1160.94 962.01,1164.98 963.92,1169.21 967.02,1172.58 975.96,1171.78 980.24,1174.32 979.32,1180.56 980.42,1183.84 979.35,1189.04 980.2,1194.22 984.84,1195.98 986.82,1200.14 991.25,1202.1 995.83,1203.9 997.94,1207.95 1001.65,1209.77 1004.23,1213.28 1008.86,1215.47 1012.14,1219.02 1015.33,1222.66 1020.12,1224.69 1021.29,1230.36 1024.38,1233.45 1025.14,1238.71 1030.93,1239.12 1032.03,1244.73 1035.62,1247.57 1038.74,1250.94 1041.94,1254.22 1046.15,1254.68 1046.01,1261.46 1051.87,1261.54 1056.98,1262.7 1057.85,1269.9 1063.1,1270.85 1065.2,1275.56 1068.88,1277.58 1070.03,1284.65 1076.58,1282.73 1078.74,1288.12 1083.25,1289.61 1086.94,1290.96 1088.69,1295.74 1092.63,1297.29 1097.95,1295.44 1099.72,1302.39 1103.37,1304.67 1107.28,1304.92 1111.45,1306.73 1115.99,1309.07 1121.59,1305.42 1125.35,1312.08 1130.13,1313.08 1134.37,1312.38 1138.12,1314.51" fill="none" stroke="#c0c0c0" stroke-width="4.2" stroke-linejoin="round" stroke-linecap="round"/>
<polyline points="827.63,817.77 828.22,822.28 828.92,826.77 829.84,831.22 835.47,834.8 839.05,838.76 840.19,843.17 840.91,847.65 843.11,851.86 842.31,856.78 844.94,861.39 846.97,865.95 841.28,871.8 846.02,875.91 842.13,881.46 840.52,886.3 840.09,891.03 846.17,894.63 841.97,900.55 844.44,904.97 847.5,909.25 845.6,914.2 851.89,916.17 853.51,920.17 851.3,925.4 855.6,928.54 857.09,932.59 861.98,935.54 863.17,939.95 864.78,944.89 866.12,949.68 871.95,953.14 874.41,957.6 875.3,962.51 875.64,967.47 876.56,972.28 876.3,977.57 882.03,981.03 884.49,985.49 889.17,989.28 891.01,992.43 894.46,994.02 896.93,997.77 896.42,1002.75 897.93,1006.89 902.15,1009.91 903.47,1014.14 904.14,1020.52 903.25,1027.59 906.5,1031.81 911.66,1035.46 909.51,1041.3 909.49,1046.51 909.46,1050.02 909.19,1053.02 913.3,1056.09 916.5,1059.56 917.03,1064.18 922.76,1066.55 925.08,1070.4 928.74,1074.02 929.7,1078.45 930.94,1082.39 929.88,1083.92 930.18,1086.61 930.5,1092.29 934.72,1095.55 934.35,1102.64 933.56,1109.11 934.47,1113.6 932.63,1118.65 934.25,1121.69 939.78,1123.17 939.33,1128.51 941.35,1132.26 940.31,1137.98 947.83,1137.68 951.14,1140.19 950.28,1146.12 952.65,1149.78 957.48,1151.59 964.18,1152.25 965.35,1157.01 962.71,1164.48 967.77,1166.45 974.32,1167.36 973.08,1173.84 977.08,1176.57 981.64,1178.9 986.27,1179.14 989.53,1179.83 989.9,1185.45 990.78,1190.61 990.57,1196.76 992.31,1201.13 996.96,1202.88 998.87,1207.11 1002.95,1208.53 1007.15,1210.34 1012.51,1211.79 1013.06,1218.1 1014.65,1223.35 1018.78,1226.04 1022.26,1229.38 1023.82,1234.04 1023.12,1240.96 1029.59,1240.6 1033.96,1242.58 1037.37,1245.63 1038.95,1250.71 1043.08,1252.96 1047.03,1253.57 1048.8,1257.49 1051.67,1261.83 1055.12,1265.35 1060.2,1266.55 1063.72,1269.97 1069,1269.72 1069.79,1276.07 1073.77,1278.42 1078.29,1279.88 1080.55,1285.11 1084.13,1288.13 1085.96,1292.91 1090.03,1292.4 1095.5,1290.17 1097.4,1296.8 1102.39,1295.77 1105.43,1299.56 1108.26,1301.44 1112.47,1301.02 1116.71,1305.03 1121.53,1305.79 1126.09,1307.99 1130.78,1309.41 1134.2,1313.38 1138.8,1310.63" fill="none" stroke="#c0c0c0" stroke-width="4.2" stroke-linejoin="round" stroke-linecap="round"/>
<polyline points="831.78,817.01 835.19,821 835.72,825.52 842.64,828.86 843.17,833.38 843.5,837.94 839.57,843.28 843,847.27 841.17,852.22 847.13,855.94 846.25,861.17 846.79,865.98 849.23,870.47 850.26,875.2 847.01,880.64 847.67,884.89 846.38,889.61 848.37,894.14 848.67,899.04 850.6,903.58 854.42,907.7 860.13,910.28 863.62,912.41 866.51,916.01 863.61,921.46 864.03,925.84 871.44,927.99 875.14,931.32 880.55,934.63 878.43,940.88 877.33,946.38 878.59,951.19 879.45,956.12 880.9,960.87 882.84,965.32 881.01,970.93 884.32,975.13 888.21,979.15 892.85,982.95 892.63,988.22 896,990.66 893.49,994.42 898.56,997.09 903.51,999.82 904.68,1004.1 907.15,1007.85 907.92,1012.3 911.07,1018.07 910.13,1025.52 907.77,1031.43 911.33,1035.56 911.74,1040.63 909.92,1046.38 912.19,1049.03 917.38,1049.47 919.26,1053.51 917.54,1059.11 919.54,1063.09 921.3,1067.18 926.49,1069.79 929.72,1073.61 928.31,1079.02 928.68,1083.32 933.85,1081.85 932.83,1084.97 937,1088.27 939.55,1092.57 938.12,1100.46 941.51,1104.86 940.26,1110.5 942.11,1113.09 942.61,1116.3 943.63,1120.69 949.78,1121.77 947.92,1128.02 950.38,1131.48 951.12,1135.47 954.18,1138.06 955.27,1142.62 961.21,1143.8 963.6,1147.26 967.35,1149.98 971.77,1152.42 971.14,1158.46 976.82,1159.99 980.39,1163.02 985.1,1165.25 984.19,1171.49 988.13,1174.27 990.38,1175.83 987.48,1181.68 989.6,1185.72 992.23,1189.3 992.36,1195.13 997.63,1196.32 999.44,1200.64 1004.48,1202.03 1005.85,1205.75 1004.45,1213.06 1006.57,1217.78 1008.23,1222.97 1014.9,1223.09 1020.12,1224.69 1023.56,1228.08 1022.9,1235.01 1028.58,1234.88 1027.8,1242.59 1029.97,1247.02 1034.79,1248.5 1039.15,1250.49 1043.82,1252.13 1045.53,1255.46 1046.78,1260.36 1049.53,1264.88 1052.78,1268.69 1058.86,1268.46 1062.2,1272.13 1066.73,1273.21 1068.97,1277.42 1071.78,1281.74 1076.7,1282.53 1080.25,1285.61 1081.53,1292.46 1087.23,1290.37 1089.92,1292.69 1092.12,1298.56 1097.5,1296.56 1101.02,1299.16 1105.32,1299.84 1109.01,1298.75 1112.21,1302.46 1116.1,1308.45 1120.62,1310.85 1125.54,1311.04 1130.75,1309.54 1134.16,1313.61 1138.42,1312.77" fill="none" stroke="#c0c0c0" stroke-width="4.2" stroke-linejoin="round" stroke-linecap="round"/>
<polyline points="832.61,816.85 833.44,821.32 832.34,826.14 839.58,829.42 840.1,833.95 840.04,838.58 840.99,843.02 840.34,847.76 840.05,852.43 841.32,856.96 840.85,862.07 844.56,866.35 844.11,871.33 844.84,876.11 842.27,881.44 842.75,885.86 847.92,889.27 846.33,894.6 848.16,899.16 852.94,903.05 855.66,907.42 855.94,911.41 856.69,914.63 858.55,918.56 862.85,921.7 862.65,926.29 870.82,928.19 872.79,932.08 874.94,936.35 878.38,940.9 881.35,945.2 882.53,950.03 878.87,956.29 879.5,961.28 884.91,964.7 885.44,969.58 885.82,974.67 888.99,978.92 890.75,983.59 892.65,988.22 895.91,990.69 897.13,992.92 898.45,997.14 901.13,1000.8 903.17,1004.72 904.58,1008.91 908.97,1011.86 906.3,1019.76 911.45,1025.13 913.65,1029.66 910.51,1035.8 916.29,1039.26 918.63,1043.76 915.84,1047.71 915.6,1050.24 918.12,1054 919.98,1058.05 924.82,1060.8 925.76,1065.25 930.02,1068.26 933.39,1072.05 933.94,1076.7 936.47,1080.11 936.98,1080.22 936.43,1082.75 939.01,1087.03 940.42,1092.03 941.95,1098.24 944.29,1103.37 947.16,1106.82 947.02,1110.2 945.85,1114.21 949.31,1117.03 952.18,1120.22 951.24,1125.88 956.75,1127.38 959.24,1130.01 961.06,1133.25 961.54,1138.24 962.73,1142.73 969.6,1143.02 971.71,1146.87 974.79,1150.26 978.39,1153.27 984.1,1154.78 982.9,1161.23 987.4,1163.61 987.71,1168.98 991.43,1171.91 993.12,1173.63 993.39,1176.34 999.22,1177.02 999.71,1182.53 1001.36,1187 1005.22,1189.46 1003.85,1196.65 1005.64,1200.98 1010.56,1201.24 1009.62,1207.84 1014.25,1210.04 1015.21,1215.93 1015.74,1222.25 1021.46,1223.33 1023.05,1228.59 1024.05,1233.8 1027.66,1235.91 1032.12,1237.79 1035.13,1241.28 1037.08,1245.94 1040.87,1248.57 1042.67,1253.41 1044.16,1257.19 1049.92,1255.89 1053.23,1259.6 1057.23,1262.35 1061.46,1264.74 1064.57,1268.76 1067.32,1272.31 1072.09,1272.24 1074.03,1277.99 1079.39,1278.05 1080.81,1284.68 1085.02,1286.65 1088.37,1288.1 1089.75,1293.1 1094.81,1291.88 1096.84,1298.19 1100.75,1299.83 1105.01,1300.61 1108.67,1299.94 1111.84,1304.53 1117.49,1300.65 1121.76,1304.48 1126.29,1306.83 1130.48,1311.1 1134.78,1310.05 1138.25,1313.75" fill="none" stroke="#c0c0c0" stroke-width="4.2" stroke-linejoin="round" stroke-linecap="round"/>
<rect x="698.05" y="955" width="3.3" height="57.5" rx="1.5" fill="#c0c0c0"/>
<rect x="680.55" y="1040" width="3.3" height="56" rx="1.5" fill="#c0c0c0"/>
<rect x="666.85" y="1150" width="3.3" height="36" rx="1.5" fill="#c0c0c0"/>
<rect x="658.05" y="1195" width="3.3" height="50" rx="1.5" fill="#c0c0c0"/>
<rect x="649.05" y="1206" width="3.3" height="48.5" rx="1.5" fill="#c0c0c0"/>
<rect x="487" y="1068.3" width="4" height="251" fill="#c0c0c0"/>
<rect x="510" y="1281" width="4" height="38" fill="#c0c0c0"/>
<line x1="751.49" y1="574.61" x2="753.88" y2="587.53" stroke="#fff" stroke-width="2.4" stroke-linecap="round"/>
<line x1="838.4" y1="881.39" x2="839.56" y2="896.83" stroke="#fff" stroke-width="1.3" stroke-linecap="round"/>
<line x1="739.76" y1="297.62" x2="739.15" y2="316.39" stroke="#fff" stroke-width="3" stroke-linecap="round"/>
<line x1="796.53" y1="711.58" x2="799.52" y2="729.14" stroke="#fff" stroke-width="3" stroke-linecap="round"/>
<line x1="719.65" y1="352.48" x2="717.79" y2="358.49" stroke="#fff" stroke-width="1.3" stroke-linecap="round"/>
<line x1="698.27" y1="900.34" x2="695.19" y2="915.39" stroke="#fff" stroke-width="1.3" stroke-linecap="round"/>
<line x1="763.91" y1="624" x2="764.53" y2="640.26" stroke="#fff" stroke-width="2" stroke-linecap="round"/>
<line x1="711.37" y1="732.72" x2="711.15" y2="739.13" stroke="#fff" stroke-width="1.6" stroke-linecap="round"/>
<line x1="722.22" y1="473.09" x2="721.74" y2="479.28" stroke="#fff" stroke-width="1" stroke-linecap="round"/>
<line x1="781.01" y1="530.66" x2="781.74" y2="551.95" stroke="#fff" stroke-width="3" stroke-linecap="round"/>
<line x1="743.27" y1="228.92" x2="744.2" y2="241.91" stroke="#fff" stroke-width="3" stroke-linecap="round"/>
<line x1="703.21" y1="529.91" x2="702.1" y2="548.15" stroke="#fff" stroke-width="1.6" stroke-linecap="round"/>
<line x1="729.28" y1="486.74" x2="728.14" y2="498.71" stroke="#fff" stroke-width="1" stroke-linecap="round"/>
<line x1="762.28" y1="331.51" x2="762.31" y2="344.42" stroke="#fff" stroke-width="2" stroke-linecap="round"/>
<line x1="752.58" y1="366.8" x2="752.69" y2="375.04" stroke="#fff" stroke-width="3" stroke-linecap="round"/>
<line x1="680.64" y1="812.77" x2="678.89" y2="834.6" stroke="#fff" stroke-width="1" stroke-linecap="round"/>
<line x1="786.93" y1="436.31" x2="787.64" y2="446.48" stroke="#fff" stroke-width="1" stroke-linecap="round"/>
<line x1="741.3" y1="388.24" x2="741.9" y2="404.15" stroke="#fff" stroke-width="1" stroke-linecap="round"/>
<line x1="740.62" y1="264.63" x2="738.52" y2="269.79" stroke="#fff" stroke-width="2.4" stroke-linecap="round"/>
<line x1="727.87" y1="483.38" x2="727.28" y2="489.92" stroke="#fff" stroke-width="2.4" stroke-linecap="round"/>
<line x1="701.06" y1="718.41" x2="699.7" y2="725.57" stroke="#fff" stroke-width="2.4" stroke-linecap="round"/>
<line x1="756.02" y1="601" x2="756.35" y2="609.1" stroke="#fff" stroke-width="1.3" stroke-linecap="round"/>
<line x1="722.38" y1="464.1" x2="721.72" y2="481.44" stroke="#fff" stroke-width="1.3" stroke-linecap="round"/>
<line x1="798.89" y1="790.66" x2="801.56" y2="810.66" stroke="#fff" stroke-width="2.4" stroke-linecap="round"/>
<line x1="726.3" y1="288.2" x2="726.37" y2="301.91" stroke="#fff" stroke-width="1.6" stroke-linecap="round"/>
<line x1="764.82" y1="407.88" x2="765.57" y2="426.88" stroke="#fff" stroke-width="2.4" stroke-linecap="round"/>
<line x1="749.38" y1="599.81" x2="750.17" y2="621.42" stroke="#fff" stroke-width="1.3" stroke-linecap="round"/>
<line x1="753.38" y1="402" x2="754.21" y2="417.44" stroke="#fff" stroke-width="1.6" stroke-linecap="round"/>
<line x1="777.89" y1="394.4" x2="778.53" y2="400.57" stroke="#fff" stroke-width="2" stroke-linecap="round"/>
<line x1="699.15" y1="570.33" x2="698.07" y2="581.6" stroke="#fff" stroke-width="2.4" stroke-linecap="round"/>
<line x1="835.75" y1="974.08" x2="839.94" y2="984.71" stroke="#fff" stroke-width="3" stroke-linecap="round"/>
<line x1="794.99" y1="761.13" x2="795.12" y2="766.44" stroke="#fff" stroke-width="1.6" stroke-linecap="round"/>
<line x1="790.51" y1="764.64" x2="791.77" y2="777.84" stroke="#fff" stroke-width="3" stroke-linecap="round"/>
<line x1="714.54" y1="466.61" x2="713.03" y2="479.31" stroke="#fff" stroke-width="1.6" stroke-linecap="round"/>
<line x1="819.53" y1="789.57" x2="821.45" y2="808.05" stroke="#fff" stroke-width="1.6" stroke-linecap="round"/>
<line x1="763.26" y1="494.25" x2="764.73" y2="514.06" stroke="#fff" stroke-width="2" stroke-linecap="round"/>
<line x1="849.29" y1="949.21" x2="850.82" y2="965.47" stroke="#fff" stroke-width="2" stroke-linecap="round"/>
<line x1="771.76" y1="669.81" x2="780.24" y2="691.69" stroke="#fff" stroke-width="2" stroke-linecap="round"/>
<line x1="704.94" y1="785.83" x2="701.98" y2="798.32" stroke="#fff" stroke-width="2.4" stroke-linecap="round"/>
<line x1="761.93" y1="291.48" x2="762.08" y2="306.7" stroke="#fff" stroke-width="2" stroke-linecap="round"/>
<line x1="758.27" y1="242.92" x2="759.66" y2="261.18" stroke="#fff" stroke-width="3" stroke-linecap="round"/>
<line x1="818.7" y1="930.89" x2="820.82" y2="947.42" stroke="#fff" stroke-width="1.3" stroke-linecap="round"/>
<line x1="777.68" y1="621.16" x2="778.46" y2="641.98" stroke="#fff" stroke-width="2" stroke-linecap="round"/>
<line x1="842.67" y1="911.01" x2="847.16" y2="923.33" stroke="#fff" stroke-width="1.3" stroke-linecap="round"/>
<line x1="835" y1="904.75" x2="837.77" y2="912.06" stroke="#fff" stroke-width="2" stroke-linecap="round"/>
<line x1="784.04" y1="500.27" x2="784.08" y2="506.37" stroke="#fff" stroke-width="1.6" stroke-linecap="round"/>
<line x1="683.35" y1="854.16" x2="681.75" y2="873.28" stroke="#fff" stroke-width="2" stroke-linecap="round"/>
<line x1="699.55" y1="702.84" x2="695.99" y2="724.53" stroke="#fff" stroke-width="2" stroke-linecap="round"/>
<line x1="776.25" y1="472.4" x2="776.6" y2="487.73" stroke="#fff" stroke-width="3" stroke-linecap="round"/>
<line x1="802.26" y1="774.44" x2="802.86" y2="779.77" stroke="#fff" stroke-width="1.3" stroke-linecap="round"/>
<line x1="714.29" y1="540.21" x2="714.05" y2="549.73" stroke="#fff" stroke-width="1.3" stroke-linecap="round"/>
<line x1="805.31" y1="837.54" x2="806.94" y2="851.64" stroke="#fff" stroke-width="3" stroke-linecap="round"/>
<line x1="829.09" y1="846.11" x2="830.73" y2="859.19" stroke="#fff" stroke-width="1.3" stroke-linecap="round"/>
<line x1="811.37" y1="776.96" x2="811.58" y2="785.81" stroke="#fff" stroke-width="1.6" stroke-linecap="round"/>
<line x1="802.18" y1="636.89" x2="804.1" y2="658.84" stroke="#fff" stroke-width="1.3" stroke-linecap="round"/>
<line x1="775.3" y1="532.8" x2="775.86" y2="539.28" stroke="#fff" stroke-width="3" stroke-linecap="round"/>
<line x1="741.65" y1="521.76" x2="740.6" y2="541.84" stroke="#fff" stroke-width="1" stroke-linecap="round"/>
<line x1="752.52" y1="513.98" x2="753.42" y2="532.53" stroke="#fff" stroke-width="1.6" stroke-linecap="round"/>
<line x1="762.98" y1="581.1" x2="765.24" y2="598.37" stroke="#fff" stroke-width="3" stroke-linecap="round"/>
<line x1="832.44" y1="938.79" x2="833.34" y2="945.28" stroke="#fff" stroke-width="1.6" stroke-linecap="round"/>
<line x1="783.09" y1="635.54" x2="783.93" y2="656.01" stroke="#fff" stroke-width="1" stroke-linecap="round"/>
<line x1="707.23" y1="494.43" x2="706.03" y2="508.79" stroke="#fff" stroke-width="1.6" stroke-linecap="round"/>
<line x1="692.66" y1="604.85" x2="692.14" y2="610.94" stroke="#fff" stroke-width="1" stroke-linecap="round"/>
<line x1="737.83" y1="363.57" x2="737.98" y2="370.96" stroke="#fff" stroke-width="1.3" stroke-linecap="round"/>
<line x1="673.81" y1="993.62" x2="670.93" y2="1006.11" stroke="#fff" stroke-width="2" stroke-linecap="round"/>
<line x1="801.71" y1="670.65" x2="806.98" y2="685.15" stroke="#fff" stroke-width="3" stroke-linecap="round"/>
<line x1="704.83" y1="654.36" x2="704.89" y2="674.78" stroke="#fff" stroke-width="1.6" stroke-linecap="round"/>
<line x1="735.62" y1="463.29" x2="735.94" y2="483.6" stroke="#fff" stroke-width="1.3" stroke-linecap="round"/>
<line x1="714.84" y1="463.09" x2="714.26" y2="472.73" stroke="#fff" stroke-width="2" stroke-linecap="round"/>
<line x1="751.27" y1="381.1" x2="751.53" y2="396.38" stroke="#fff" stroke-width="1" stroke-linecap="round"/>
<line x1="690.45" y1="639.69" x2="690.34" y2="653.94" stroke="#fff" stroke-width="2.4" stroke-linecap="round"/>
<line x1="728.83" y1="317.87" x2="727.85" y2="338.69" stroke="#fff" stroke-width="2" stroke-linecap="round"/>
<line x1="792.78" y1="546.75" x2="793.89" y2="556.33" stroke="#fff" stroke-width="2" stroke-linecap="round"/>
<line x1="728.57" y1="601.72" x2="728.44" y2="622.63" stroke="#fff" stroke-width="2" stroke-linecap="round"/>
<line x1="699.14" y1="633.86" x2="698.82" y2="639.36" stroke="#fff" stroke-width="1.6" stroke-linecap="round"/>
<line x1="765.97" y1="329.89" x2="766.07" y2="338.19" stroke="#fff" stroke-width="1.3" stroke-linecap="round"/>
<line x1="744.93" y1="239.47" x2="745.3" y2="248.63" stroke="#fff" stroke-width="2" stroke-linecap="round"/>
<line x1="761.97" y1="308.4" x2="762.23" y2="322.08" stroke="#fff" stroke-width="1.6" stroke-linecap="round"/>
<line x1="824.54" y1="776.16" x2="824.89" y2="791.92" stroke="#fff" stroke-width="2.4" stroke-linecap="round"/>
<line x1="813.89" y1="701.73" x2="815.02" y2="710.44" stroke="#fff" stroke-width="1.3" stroke-linecap="round"/>
<line x1="705.29" y1="877.42" x2="701.49" y2="895.01" stroke="#fff" stroke-width="1.6" stroke-linecap="round"/>
<line x1="829.31" y1="921.19" x2="833.24" y2="929.9" stroke="#fff" stroke-width="1.3" stroke-linecap="round"/>
<line x1="821.29" y1="909.26" x2="825.31" y2="918.68" stroke="#fff" stroke-width="1" stroke-linecap="round"/>
<line x1="792.2" y1="559.13" x2="793.39" y2="576.11" stroke="#fff" stroke-width="1.3" stroke-linecap="round"/>
<line x1="765.11" y1="538.92" x2="764.8" y2="547.33" stroke="#fff" stroke-width="3" stroke-linecap="round"/>
<line x1="769.1" y1="342.73" x2="768.89" y2="359.71" stroke="#fff" stroke-width="3" stroke-linecap="round"/>
<line x1="746.61" y1="477.29" x2="746.75" y2="485.51" stroke="#fff" stroke-width="1" stroke-linecap="round"/>
<line x1="716.19" y1="383.96" x2="715.74" y2="399.39" stroke="#fff" stroke-width="2.4" stroke-linecap="round"/>
<line x1="727.76" y1="387.45" x2="727.11" y2="395.38" stroke="#fff" stroke-width="1.3" stroke-linecap="round"/>
<line x1="790.53" y1="553.82" x2="790.6" y2="559.87" stroke="#fff" stroke-width="3" stroke-linecap="round"/>
<line x1="766.77" y1="378.7" x2="767.16" y2="391.64" stroke="#fff" stroke-width="2.4" stroke-linecap="round"/>
<line x1="734.18" y1="342.35" x2="730.23" y2="358.12" stroke="#fff" stroke-width="1" stroke-linecap="round"/>
<line x1="716.08" y1="500.6" x2="714.94" y2="518.17" stroke="#fff" stroke-width="2" stroke-linecap="round"/>
<line x1="757.02" y1="525.37" x2="756.28" y2="543.84" stroke="#fff" stroke-width="1.6" stroke-linecap="round"/>
<line x1="775.47" y1="515.47" x2="776.74" y2="535.1" stroke="#fff" stroke-width="3" stroke-linecap="round"/>
<line x1="753.38" y1="532.9" x2="752.87" y2="547.83" stroke="#fff" stroke-width="1.6" stroke-linecap="round"/>
<line x1="723.54" y1="487.74" x2="723.59" y2="505.39" stroke="#fff" stroke-width="1.3" stroke-linecap="round"/>
<line x1="737.12" y1="489.78" x2="737.64" y2="509.74" stroke="#fff" stroke-width="3" stroke-linecap="round"/>
<line x1="745.58" y1="350.95" x2="744" y2="359.47" stroke="#fff" stroke-width="1.3" stroke-linecap="round"/>
<line x1="746.36" y1="255.34" x2="746.45" y2="260.52" stroke="#fff" stroke-width="1.6" stroke-linecap="round"/>
<line x1="788.03" y1="552.12" x2="788.06" y2="561.76" stroke="#fff" stroke-width="3" stroke-linecap="round"/>
<line x1="735.04" y1="328.08" x2="735" y2="336.18" stroke="#fff" stroke-width="1" stroke-linecap="round"/>
<line x1="779.94" y1="353.16" x2="781.7" y2="370.08" stroke="#fff" stroke-width="2" stroke-linecap="round"/>
<line x1="696.88" y1="544.75" x2="695.63" y2="562.31" stroke="#fff" stroke-width="1.6" stroke-linecap="round"/>
<line x1="748.79" y1="371.18" x2="749.49" y2="387.19" stroke="#fff" stroke-width="1" stroke-linecap="round"/>
<line x1="745.22" y1="259.82" x2="740.18" y2="274.17" stroke="#fff" stroke-width="2.4" stroke-linecap="round"/>
<line x1="749.89" y1="366.75" x2="750.26" y2="373.45" stroke="#fff" stroke-width="2" stroke-linecap="round"/>
<line x1="706.88" y1="489.14" x2="705.71" y2="507.05" stroke="#fff" stroke-width="1" stroke-linecap="round"/>
<line x1="776.1" y1="349.84" x2="777.47" y2="371.33" stroke="#fff" stroke-width="2" stroke-linecap="round"/>
<line x1="756.49" y1="404.43" x2="756.73" y2="417.84" stroke="#fff" stroke-width="1.6" stroke-linecap="round"/>
<line x1="756.51" y1="401.27" x2="756.61" y2="411.13" stroke="#fff" stroke-width="3" stroke-linecap="round"/>
<line x1="772.31" y1="313.81" x2="774.18" y2="331.53" stroke="#fff" stroke-width="1" stroke-linecap="round"/>
<line x1="744.51" y1="235.72" x2="744.3" y2="243.39" stroke="#fff" stroke-width="3" stroke-linecap="round"/>
<line x1="773.94" y1="358.81" x2="774.53" y2="364.66" stroke="#fff" stroke-width="3" stroke-linecap="round"/>
<line x1="702.64" y1="535.8" x2="702.29" y2="548.1" stroke="#fff" stroke-width="2" stroke-linecap="round"/>
<line x1="763.45" y1="313.21" x2="763.53" y2="319.89" stroke="#fff" stroke-width="3" stroke-linecap="round"/>
<line x1="710.52" y1="525.99" x2="710.43" y2="535.16" stroke="#fff" stroke-width="3" stroke-linecap="round"/>
<line x1="748.22" y1="268.17" x2="748.88" y2="276.64" stroke="#fff" stroke-width="1" stroke-linecap="round"/>
<line x1="729.69" y1="347.24" x2="727.67" y2="354.61" stroke="#fff" stroke-width="2" stroke-linecap="round"/>
<line x1="732.79" y1="376.99" x2="732.61" y2="389.12" stroke="#fff" stroke-width="3" stroke-linecap="round"/>
<polygon points="571,1318.7 571,1304.8 577,1300.8 577,1285.7 583.8,1281 583.8,1239.7 587.3,1236 603.2,1236.5 604.8,1184 611,1179.4 617.5,1180 618.3,1163.5 621.4,1160.3 621.4,1145.2 627.8,1141.3 629.4,1123.8 633.3,1119 635,1100 635,1093.8 640.5,1081 644.8,1074.8 646,1043 648.4,1038.3 650,1006.5 653.2,997 660.3,984.3 663.5,943 666.7,933.5 668.3,904 672.2,893.8 675.9,880 677.9,856.7 682.7,849.5 685,821 688.3,811.4 690.2,774.9 693.8,770.2 695.9,735.2 699.4,728.9 705.7,687.6 710.8,660 712.4,642 714.8,610.5 718.1,580 720.5,567.6 722.9,563.8 725.2,546.7 727.6,541 728.6,531.4 729.5,516.2 730.5,510.5 732.9,494.3 736.7,488.6 738.6,481.9 739.5,472.4 742.4,463.8 746.7,460.5 748.1,454.3 751,451.4 754.8,450.7 758.1,451.4 761.9,455.7 762.4,460 766.7,466.2 768.1,473.3 771.4,478.1 772.9,484.8 775.7,501.9 778.6,505.7 781,514.3 783.8,532.4 785.7,541 788.1,563.8 790,580 793.3,610.5 798.1,642.2 800.5,660 787.8,660 785.4,642.2 780.6,610.5 776.2,580 772.9,549.5 768.6,525.7 766.7,514.3 762.9,508.6 759.5,490.5 756.2,485.7 754.3,476.2 753.1,476.7 751.9,493.3 748.6,497.1 746.2,501.9 744.3,512.4 742.9,521.9 741.9,541.9 738.6,551.4 736.2,562.9 735.7,572.4 732.9,577.1 732.9,580 728.3,610.5 725,642 724.3,660 721.6,687.6 718.4,694 712,738.4 708.9,746.3 707,789.2 702.5,805 701.7,819.4 698.3,827.3 697,860.6 692.2,868.6 689.7,880 688.9,908 686.5,912.9 681,916 680.2,933.5 677.8,952.5 673.8,987.5 672.2,997 666.7,1011.3 665.9,1036.7 661.9,1041.4 661.1,1071.6 657.9,1078 657.1,1092.2 654,1100 653.2,1103 648.4,1107 643.7,1146 641.3,1152.4 640.2,1195.2 638,1201.6 630.5,1204 628.6,1233.3 624.3,1238 622.2,1256.3 615,1260.3 614,1318.7" fill="#000" stroke="#000" stroke-width="1" stroke-linejoin="round"/>
<polyline points="791.7,642.2 793.2,650.75 793.08,660.77 796.13,668.27 796.29,677.92 797.06,685.91 799.41,696.55 800.08,704.97 801.34,714.49 803.95,723.94 803.82,734.6 804.84,743.06 806.06,752.66 809.07,763.63 810.27,772.48 812.7,782.24 812.88,791.12 813.79,801.83 814.64,810.06 817.13,820.43 818.97,827.8 820.56,836.05 820.58,843.86 823,852.33 823.19,859.51 826.61,868.9 827.89,878.81 828.25,888.21 830.87,898.85 832.29,908.1 834.81,916.48 838.81,926.31 840.65,936 845.11,946.28 847.36,954.45 850.58,964.94 853.68,975.02 855.32,984.39 859.3,992.99 861.2,1002.7 865.11,1012.21 868.51,1021.46 874.2,1031.26 876.47,1041.55 879.6,1050.06 882.82,1060.49 887.11,1069.9 890.73,1079.57 893.76,1088.85 898.74,1100.54 903.44,1108.56 909.14,1117.51 915.36,1129.15 921.07,1136.34 924.11,1143.57 930.04,1150.28 934.84,1156.43 940.31,1164.38 944.16,1170.7 949.64,1178.07 954.59,1183.82 958.19,1190.54 962.42,1197.32 968.18,1204.62 974.55,1210.01 980.12,1217.64 986.34,1223.74 992.78,1230.23 1000,1235.4 1005.29,1242.28 1010.94,1248.24 1017.46,1252.65 1023.72,1258.42 1027.98,1263.79 1035.52,1269.03 1042.7,1274.43 1051.5,1280.4 1057.96,1285.48 1066.23,1291.2 1074.9,1294.63 1083.31,1299.26 1090.47,1302.89 1098.61,1305.89 1105.1,1309.04 1115.7,1311.21 1124,1312.5 1133,1314.65 1142,1316.8" fill="none" stroke="#000" stroke-width="14" stroke-linejoin="round" stroke-linecap="butt"/>
<line x1="96" y1="465" x2="21.2" y2="431.3" stroke="#000" stroke-width="3.4"/>
<line x1="96" y1="274.8" x2="21.2" y2="241.4" stroke="#000" stroke-width="3.4"/>
</g>
<rect x="756.9" y="90.1" width="139.9" height="3.7" fill="#c0c0c0"/><rect x="756.9" y="162" width="139.9" height="14" fill="#000"/>
<g fill="#f00"><rect x="534.1" y="881.9" width="113" height="6"/><polygon points="645.2,874.8 645.2,895.7 683.3,885.2"/><rect x="864" y="884.8" width="107.8" height="6"/><polygon points="865.3,878 865.3,898.7 827.6,888.2"/></g>
<g>
<text transform="matrix(0.59 0 0 0.77 136.49 1335)" fill="#000">0</text>
<text transform="matrix(0.59 0 0 0.77 138.28 1335)" fill="#000">0</text>
<text transform="matrix(0.76 0 0 0.67 170 1335)" fill="#000">.</text>
<text transform="matrix(0.59 0 0 0.77 186.7 1335)" fill="#000">0</text>
<text transform="matrix(0.59 0 0 0.77 188.52 1335)" fill="#000">0</text>
<text transform="matrix(0.59 0 0 0.77 136.49 1153.71)" fill="#000">0</text>
<text transform="matrix(0.59 0 0 0.77 138.28 1153.71)" fill="#000">0</text>
<text transform="matrix(0.76 0 0 0.67 170 1153.71)" fill="#000">.</text>
<text transform="matrix(0.58 0 0 0.77 186.99 1153.71)" fill="#000">2</text>
<text transform="matrix(0.58 0 0 0.77 188.89 1153.71)" fill="#000">2</text>
<text transform="matrix(0.59 0 0 0.77 136.49 972.43)" fill="#000">0</text>
<text transform="matrix(0.59 0 0 0.77 138.28 972.43)" fill="#000">0</text>
<text transform="matrix(0.76 0 0 0.67 170 972.43)" fill="#000">.</text>
<text transform="matrix(0.58 0 0 0.77 187.47 972.43)" fill="#000">4</text>
<text transform="matrix(0.58 0 0 0.77 189.35 972.43)" fill="#000">4</text>
<text transform="matrix(0.59 0 0 0.77 136.49 791.14)" fill="#000">0</text>
<text transform="matrix(0.59 0 0 0.77 138.28 791.14)" fill="#000">0</text>
<text transform="matrix(0.76 0 0 0.67 170 791.14)" fill="#000">.</text>
<text transform="matrix(0.61 0 0 0.77 186.21 791.14)" fill="#000">6</text>
<text transform="matrix(0.61 0 0 0.77 187.87 791.14)" fill="#000">6</text>
<text transform="matrix(0.59 0 0 0.77 136.49 609.86)" fill="#000">0</text>
<text transform="matrix(0.59 0 0 0.77 138.28 609.86)" fill="#000">0</text>
<text transform="matrix(0.76 0 0 0.67 170 609.86)" fill="#000">.</text>
<text transform="matrix(0.6 0 0 0.77 186.71 609.86)" fill="#000">8</text>
<text transform="matrix(0.6 0 0 0.77 188.48 609.86)" fill="#000">8</text>
<text transform="matrix(0.46 0 0 0.77 139.45 428.57)" fill="#000" clip-path="url(#c1)">1</text>
<text transform="matrix(0.46 0 0 0.77 142.39 428.57)" fill="#000" clip-path="url(#c1)">1</text>
<text transform="matrix(0.76 0 0 0.67 170 428.57)" fill="#000">.</text>
<text transform="matrix(0.59 0 0 0.77 186.7 428.57)" fill="#000">0</text>
<text transform="matrix(0.59 0 0 0.77 188.52 428.57)" fill="#000">0</text>
<text transform="matrix(0.46 0 0 0.77 139.45 247.29)" fill="#000" clip-path="url(#c1)">1</text>
<text transform="matrix(0.46 0 0 0.77 142.39 247.29)" fill="#000" clip-path="url(#c1)">1</text>
<text transform="matrix(0.76 0 0 0.67 170 247.29)" fill="#000">.</text>
<text transform="matrix(0.58 0 0 0.77 186.99 247.29)" fill="#000">2</text>
<text transform="matrix(0.58 0 0 0.77 188.89 247.29)" fill="#000">2</text>
<text transform="matrix(0.46 0 0 0.77 139.45 66)" fill="#000" clip-path="url(#c1)">1</text>
<text transform="matrix(0.46 0 0 0.77 142.39 66)" fill="#000" clip-path="url(#c1)">1</text>
<text transform="matrix(0.76 0 0 0.67 170 66)" fill="#000">.</text>
<text transform="matrix(0.58 0 0 0.77 187.47 66)" fill="#000">4</text>
<text transform="matrix(0.58 0 0 0.77 189.35 66)" fill="#000">4</text>
<text transform="matrix(0.6 0 0 0.78 245.67 1415.8)" fill="#000">0</text>
<text transform="matrix(0.6 0 0 0.78 247.42 1415.8)" fill="#000">0</text>
<text transform="matrix(0.53 0 0 0.78 466.57 1415.8)" fill="#000" clip-path="url(#c1)">1</text>
<text transform="matrix(0.53 0 0 0.78 468.89 1415.8)" fill="#000" clip-path="url(#c1)">1</text>
<text transform="matrix(0.59 0 0 0.78 684.63 1415.8)" fill="#000">2</text>
<text transform="matrix(0.59 0 0 0.78 686.44 1415.8)" fill="#000">2</text>
<text transform="matrix(0.58 0 0 0.78 904.28 1415.8)" fill="#000">3</text>
<text transform="matrix(0.58 0 0 0.78 906.16 1415.8)" fill="#000">3</text>
<text transform="matrix(0.59 0 0 0.78 1123.65 1415.8)" fill="#000">4</text>
<text transform="matrix(0.59 0 0 0.78 1125.47 1415.8)" fill="#000">4</text>
<text transform="matrix(0.45 0 0 0.68 923.54 115.9)" fill="#000">s</text>
<text transform="matrix(0.45 0 0 0.68 925.48 115.9)" fill="#000">s</text>
<text transform="matrix(0.92 0 0 0.72 959.94 115.9)" fill="#000">i</text>
<text transform="matrix(0.44 0 0 0.68 968.56 115.9)" fill="#000">n</text>
<text transform="matrix(0.44 0 0 0.68 970.58 115.9)" fill="#000">n</text>
<text transform="matrix(0.83 0 0 0.72 1042.8 115.9)" fill="#000">l</text>
<text transform="matrix(0.55 0 0 0.68 1050.65 115.9)" fill="#000">e</text>
<text transform="matrix(0.55 0 0 0.68 1051.69 115.9)" fill="#000">e</text>
<text transform="matrix(0.51 0 0 0.68 1108.28 115.9)" fill="#000">s</text>
<text transform="matrix(0.51 0 0 0.68 1109.68 115.9)" fill="#000">s</text>
<text transform="matrix(0.53 0 0 0.72 1140.55 115.9)" fill="#000">h</text>
<text transform="matrix(0.53 0 0 0.72 1141.81 115.9)" fill="#000">h</text>
<text transform="matrix(0.55 0 0 0.68 1173.49 115.9)" fill="#000">o</text>
<text transform="matrix(0.55 0 0 0.68 1174.57 115.9)" fill="#000">o</text>
<text transform="matrix(0.58 0 0 0.66 1000.55 115.08)" fill="#000">g</text>
<text transform="matrix(0.58 0 0 0.66 1001.33 115.08)" fill="#000">g</text>
<text transform="matrix(0.69 0 0 0.74 1216.56 115.82)" fill="#000">t</text>
<text transform="matrix(0.5 0 0 0.69 921.39 193.4)" fill="#000">a</text>
<text transform="matrix(0.5 0 0 0.69 922.94 193.4)" fill="#000">a</text>
<text transform="matrix(0.55 0 0 0.69 955.71 193.4)" fill="#000">v</text>
<text transform="matrix(0.55 0 0 0.69 956.75 193.4)" fill="#000">v</text>
<text transform="matrix(0.55 0 0 0.69 988.65 193.4)" fill="#000">e</text>
<text transform="matrix(0.55 0 0 0.69 989.69 193.4)" fill="#000">e</text>
<text transform="matrix(0.7 0 0 0.69 1025.33 193.4)" fill="#000">r</text>
<text transform="matrix(0.5 0 0 0.69 1050.89 193.4)" fill="#000">a</text>
<text transform="matrix(0.5 0 0 0.69 1052.44 193.4)" fill="#000">a</text>
<text transform="matrix(0.55 0 0 0.69 1116.75 193.4)" fill="#000">e</text>
<text transform="matrix(0.55 0 0 0.69 1117.79 193.4)" fill="#000">e</text>
<text transform="matrix(0.53 0 0 0.72 1150.56 193.4)" fill="#000">d</text>
<text transform="matrix(0.53 0 0 0.72 1151.77 193.4)" fill="#000">d</text>
<text transform="matrix(0.58 0 0 0.68 1082.95 192.82)" fill="#000">g</text>
<text transform="matrix(0.58 0 0 0.68 1083.73 192.82)" fill="#000">g</text>
<text transform="matrix(0.57 0 0 0.71 904.47 1001.4)" fill="#f00">0</text>
<text transform="matrix(0.57 0 0 0.71 905.04 1001.4)" fill="#f00">0</text>
<text transform="matrix(0.57 0 0 0.71 950.32 1001.4)" fill="#f00">6</text>
<text transform="matrix(0.57 0 0 0.71 950.93 1001.4)" fill="#f00">6</text>
<text transform="matrix(0.56 0 0 0.71 981.43 1001.4)" fill="#f00">6</text>
<text transform="matrix(0.56 0 0 0.71 982.07 1001.4)" fill="#f00">6</text>
<text transform="matrix(0.37 0 0 0.71 1032.66 1001.4)" fill="#f00">M</text>
<text transform="matrix(0.37 0 0 0.71 1033.99 1001.4)" fill="#f00">M</text>
<text transform="matrix(0.37 0 0 0.71 1035.31 1001.4)" fill="#f00">M</text>
<text transform="matrix(0.4 0 0 0.71 1114.43 1001.4)" fill="#f00">V</text>
<text transform="matrix(0.4 0 0 0.71 1116.54 1001.4)" fill="#f00">V</text>
<text transform="matrix(0.61 0 0 0.56 936.94 1001.4)" fill="#f00">.</text>
<text transform="matrix(0.53 0 0 0.66 1081.66 1001.36)" fill="#f00">e</text>
<text transform="matrix(0.53 0 0 0.66 1082.63 1001.36)" fill="#f00">e</text>
<text transform="matrix(0.68 0 0 1.11 474.18 1540.8)" fill="#000">E</text>
<text transform="matrix(0.68 0 0 1.11 476.16 1540.8)" fill="#000">E</text>
<text transform="matrix(0.89 0 0 1.02 529.77 1540.8)" fill="#000">n</text>
<text transform="matrix(0.89 0 0 1.02 529.92 1540.8)" fill="#000">n</text>
<text transform="matrix(0.84 0 0 1.02 580.81 1540.8)" fill="#000">e</text>
<text transform="matrix(0.84 0 0 1.02 581.39 1540.8)" fill="#000">e</text>
<text transform="matrix(1.14 0 0 1.02 632.73 1540.8)" fill="#000">r</text>
<text transform="matrix(0.6 0 0 1.11 819.12 1540.8)" fill="#000">M</text>
<text transform="matrix(0.6 0 0 1.11 821.48 1540.8)" fill="#000">M</text>
<text transform="matrix(0.82 0 0 1.02 894.9 1540.8)" fill="#000">e</text>
<text transform="matrix(0.82 0 0 1.02 895.67 1540.8)" fill="#000">e</text>
<text transform="matrix(0.68 0 0 1.11 945.1 1540.8)" fill="#000">V</text>
<text transform="matrix(0.68 0 0 1.11 946.14 1540.8)" fill="#000">V</text>
<text transform="matrix(0.93 0 0 0.91 664.39 1534.68)" fill="#000">g</text>
<text transform="matrix(0.9 0 0 0.9 709.98 1534.75)" fill="#000">y</text>
<text transform="matrix(1.28 0 0 0.94 796.59 1530.41)" fill="#000">[</text>
<text transform="matrix(1.21 0 0 0.94 1009.95 1530.41)" fill="#000">]</text>
<text transform="matrix(0 -0.58 0.93 0 88.1 1294.72)" fill="#000">N</text>
<text transform="matrix(0 -0.58 0.93 0 88.1 1292.58)" fill="#000">N</text>
<text transform="matrix(0 -0.54 0.83 0 88.1 1239.53)" fill="#000">u</text>
<text transform="matrix(0 -0.54 0.83 0 88.1 1237)" fill="#000">u</text>
<text transform="matrix(0 -0.63 0.83 0 88.1 1208.16)" fill="#000">m</text>
<text transform="matrix(0 -0.63 0.83 0 88.1 1207.07)" fill="#000">m</text>
<text transform="matrix(0 -0.7 0.88 0 88.1 1136.32)" fill="#000">b</text>
<text transform="matrix(0 -0.7 0.88 0 88.1 1135.19)" fill="#000">b</text>
<text transform="matrix(0 -0.68 0.83 0 88.1 1093.67)" fill="#000">e</text>
<text transform="matrix(0 -0.68 0.83 0 88.1 1092.32)" fill="#000">e</text>
<text transform="matrix(0 -0.98 0.83 0 88.1 1051.38)" fill="#000">r</text>
<text transform="matrix(0 -0.68 0.83 0 88.1 998.47)" fill="#000">o</text>
<text transform="matrix(0 -0.68 0.83 0 88.1 997.19)" fill="#000">o</text>
<text transform="matrix(0 -1.22 0.88 0 88.1 954.03)" fill="#000">f</text>
<text transform="matrix(0 -0.59 0.93 0 88.1 906.26)" fill="#000">P</text>
<text transform="matrix(0 -0.59 0.93 0 88.1 904.16)" fill="#000">P</text>
<text transform="matrix(0 -0.96 0.83 0 88.1 853.3)" fill="#000">r</text>
<text transform="matrix(0 -0.68 0.83 0 88.1 824.87)" fill="#000">o</text>
<text transform="matrix(0 -0.68 0.83 0 88.1 823.59)" fill="#000">o</text>
<text transform="matrix(0 -0.68 0.83 0 88.1 754.37)" fill="#000">o</text>
<text transform="matrix(0 -0.68 0.83 0 88.1 753.09)" fill="#000">o</text>
<text transform="matrix(0 -0.71 0.83 0 88.1 713.13)" fill="#000">n</text>
<text transform="matrix(0 -0.71 0.83 0 88.1 712.09)" fill="#000">n</text>
<text transform="matrix(0 -0.65 0.83 0 88.1 667.62)" fill="#000">s</text>
<text transform="matrix(0 -0.65 0.83 0 88.1 666.08)" fill="#000">s</text>
<text transform="matrix(0 -0.62 0.93 0 88.1 578.29)" fill="#000" clip-path="url(#c1)">1</text>
<text transform="matrix(0 -0.62 0.93 0 88.1 576.46)" fill="#000" clip-path="url(#c1)">1</text>
<text transform="matrix(0 -0.68 0.93 0 88.1 537.75)" fill="#000">0</text>
<text transform="matrix(0 -0.68 0.93 0 88.1 536.42)" fill="#000">0</text>
<text transform="matrix(0 -0.49 0.83 0 88.1 429.46)" fill="#000">m</text>
<text transform="matrix(0 -0.49 0.83 0 88.1 427.18)" fill="#000">m</text>
<text transform="matrix(0 -0.48 0.83 0 88.1 367.11)" fill="#000">m</text>
<text transform="matrix(0 -0.48 0.83 0 88.1 364.75)" fill="#000">m</text>
<text transform="matrix(0 -0.47 0.93 0 88.1 237.55)" fill="#000">M</text>
<text transform="matrix(0 -0.47 0.93 0 88.1 234.68)" fill="#000">M</text>
<text transform="matrix(0 -0.67 0.83 0 88.1 174.53)" fill="#000">e</text>
<text transform="matrix(0 -0.67 0.83 0 88.1 173.08)" fill="#000">e</text>
<text transform="matrix(0 -0.54 0.93 0 88.1 132.14)" fill="#000">V</text>
<text transform="matrix(0 -0.54 0.93 0 88.1 130.25)" fill="#000">V</text>
<text transform="matrix(0 -1.23 0.92 0 88.08 782.47)" fill="#000">t</text>
<text transform="matrix(0 -1.04 0.81 0 80.34 599.09)" fill="#000">[</text>
<text transform="matrix(0 -1.02 0.81 0 80.34 78.49)" fill="#000">]</text>
<text transform="matrix(0 -0.39 0.54 0 47.97 494.54)" fill="#000">5</text>
<text transform="matrix(0 -0.39 0.54 0 47.97 493.44)" fill="#000">5</text>
<text transform="matrix(0 -0.4 0.55 0 49 303.4)" fill="#000">2</text>
<text transform="matrix(0 -0.4 0.55 0 49 302.39)" fill="#000">2</text>
</g>
</svg>
</body></html>
